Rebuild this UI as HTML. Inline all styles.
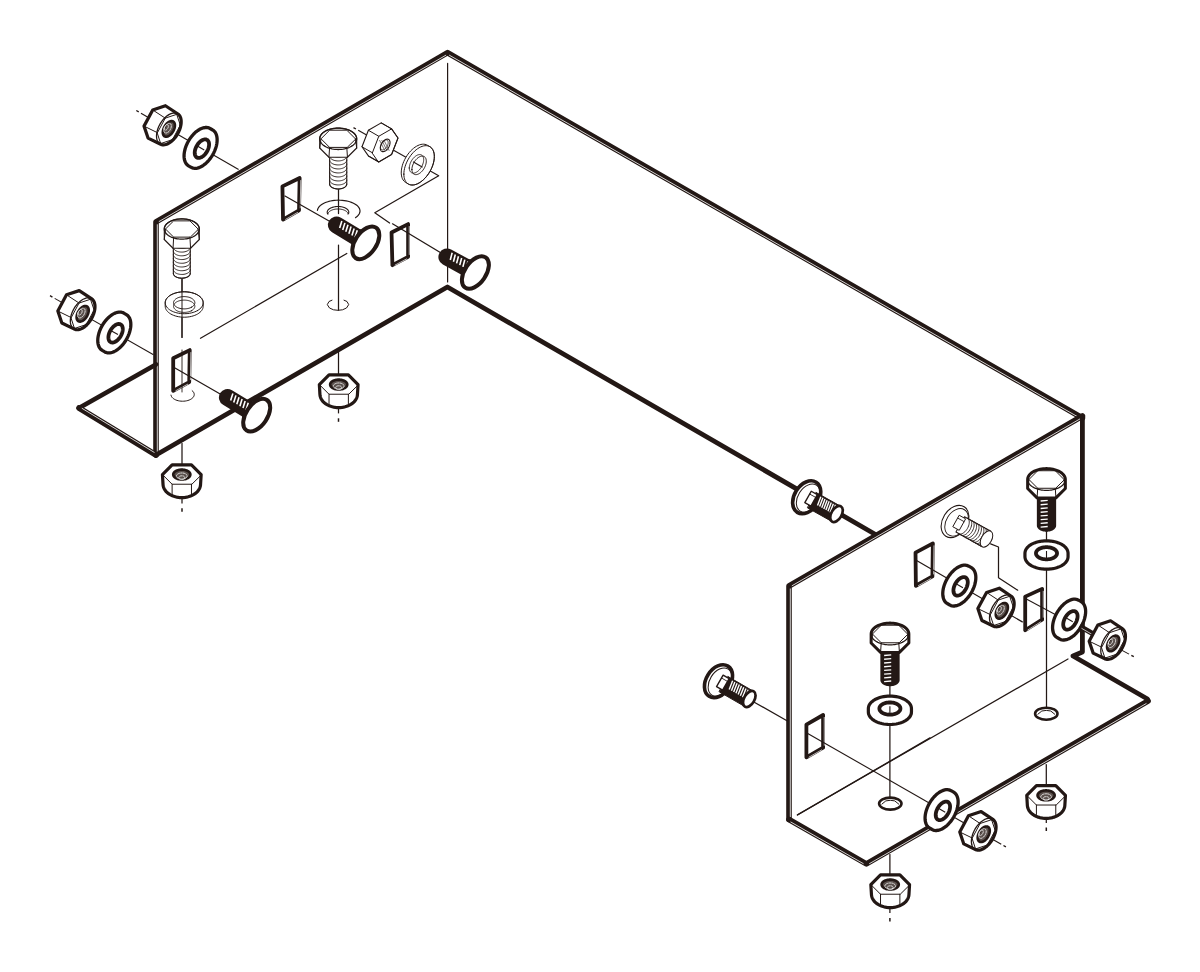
<!DOCTYPE html>
<html><head><meta charset="utf-8"><style>html,body{margin:0;padding:0;background:#fff;}svg{display:block}</style></head>
<body><svg width="1200" height="972" viewBox="0 0 1200 972">
<path d="M156.00,455.00 L156.00,221.80 L447.60,52.70 L1082.40,418.00" fill="none" stroke="#231815" stroke-width="5.6" stroke-linecap="round" stroke-linejoin="round"/>
<path d="M157.30,452.50 L157.30,224.30" fill="none" stroke="#fff" stroke-width="0.8" stroke-linecap="butt" stroke-linejoin="round"/>
<path d="M158.81,221.67 L446.09,55.08" fill="none" stroke="#fff" stroke-width="0.8" stroke-linecap="butt" stroke-linejoin="round"/>
<path d="M449.12,55.07 L1079.58,417.88" fill="none" stroke="#fff" stroke-width="0.8" stroke-linecap="butt" stroke-linejoin="round"/>
<path d="M79.00,408.00 L156.00,364.50" fill="none" stroke="#231815" stroke-width="4.6" stroke-linecap="round" stroke-linejoin="round"/>
<path d="M79.00,408.00 L156.00,455.00" fill="none" stroke="#231815" stroke-width="5.6" stroke-linecap="round" stroke-linejoin="round"/>
<path d="M81.81,408.19 L154.54,452.59" fill="none" stroke="#fff" stroke-width="0.8" stroke-linecap="butt" stroke-linejoin="round"/>
<path d="M156.00,455.00 L447.40,287.00 L875.50,534.50" fill="none" stroke="#231815" stroke-width="4.8" stroke-linecap="round" stroke-linejoin="round"/>
<path d="M789.00,819.50 L789.00,586.00 L1082.40,416.00" fill="none" stroke="#231815" stroke-width="5.6" stroke-linecap="round" stroke-linejoin="round"/>
<path d="M790.30,817.00 L790.30,588.50" fill="none" stroke="#fff" stroke-width="0.8" stroke-linecap="butt" stroke-linejoin="round"/>
<path d="M791.81,585.87 L1080.89,418.38" fill="none" stroke="#fff" stroke-width="0.8" stroke-linecap="butt" stroke-linejoin="round"/>
<path d="M1082.40,418.00 L1082.40,652.00 L1073.00,656.00 L1147.50,699.00 L1148.00,701.00" fill="none" stroke="#231815" stroke-width="4.8" stroke-linecap="round" stroke-linejoin="round"/>
<path d="M1148.00,701.00 L866.40,863.90 L789.00,819.50" fill="none" stroke="#231815" stroke-width="5.6" stroke-linecap="round" stroke-linejoin="round"/>
<path d="M1146.49,703.38 L869.21,863.77" fill="none" stroke="#fff" stroke-width="0.8" stroke-linecap="butt" stroke-linejoin="round"/>
<path d="M863.58,863.78 L790.52,821.87" fill="none" stroke="#fff" stroke-width="0.8" stroke-linecap="butt" stroke-linejoin="round"/>
<path d="M447.60,63.40 L447.60,282.00" fill="none" stroke="#231815" stroke-width="1.2" stroke-linecap="round" stroke-linejoin="round"/>
<path d="M797.30,815.00 L1068.00,659.00" fill="none" stroke="#231815" stroke-width="1.2" stroke-linecap="round" stroke-linejoin="round"/>
<path d="M173.20,358.28 L189.75,350.09 L189.22,382.06 L173.20,390.80Z" fill="#fff" stroke="#231815" stroke-width="3.8" stroke-linecap="round" stroke-linejoin="round"/>
<path d="M190.87,352.11 L190.40,380.08" fill="none" stroke="#fff" stroke-width="0.7" stroke-linecap="butt" stroke-linejoin="round"/>
<path d="M188.01,384.03 L175.51,390.85" fill="none" stroke="#fff" stroke-width="0.7" stroke-linecap="butt" stroke-linejoin="round"/>
<path d="M282.42,186.38 L299.64,178.06 L299.02,210.29 L283.04,219.54Z" fill="#fff" stroke="#231815" stroke-width="3.8" stroke-linecap="round" stroke-linejoin="round"/>
<path d="M300.75,180.08 L300.21,208.31" fill="none" stroke="#fff" stroke-width="0.7" stroke-linecap="butt" stroke-linejoin="round"/>
<path d="M297.87,212.29 L285.35,219.53" fill="none" stroke="#fff" stroke-width="0.7" stroke-linecap="butt" stroke-linejoin="round"/>
<path d="M391.53,232.45 L408.10,224.09 L408.10,256.86 L392.42,265.18Z" fill="#fff" stroke="#231815" stroke-width="3.8" stroke-linecap="round" stroke-linejoin="round"/>
<path d="M409.25,226.09 L409.25,254.86" fill="none" stroke="#fff" stroke-width="0.7" stroke-linecap="butt" stroke-linejoin="round"/>
<path d="M406.87,258.81 L394.72,265.26" fill="none" stroke="#fff" stroke-width="0.7" stroke-linecap="butt" stroke-linejoin="round"/>
<path d="M915.51,552.63 L932.86,543.39 L932.41,576.38 L915.87,585.76Z" fill="#fff" stroke="#231815" stroke-width="3.8" stroke-linecap="round" stroke-linejoin="round"/>
<path d="M933.98,545.40 L933.59,574.40" fill="none" stroke="#fff" stroke-width="0.7" stroke-linecap="butt" stroke-linejoin="round"/>
<path d="M931.24,578.37 L918.17,585.77" fill="none" stroke="#fff" stroke-width="0.7" stroke-linecap="butt" stroke-linejoin="round"/>
<path d="M1025.20,596.62 L1042.10,588.86 L1042.10,619.65 L1025.20,630.26Z" fill="#fff" stroke="#231815" stroke-width="3.8" stroke-linecap="round" stroke-linejoin="round"/>
<path d="M1043.25,590.86 L1043.25,617.65" fill="none" stroke="#fff" stroke-width="0.7" stroke-linecap="butt" stroke-linejoin="round"/>
<path d="M1041.02,621.69 L1027.51,630.17" fill="none" stroke="#fff" stroke-width="0.7" stroke-linecap="butt" stroke-linejoin="round"/>
<path d="M806.40,724.60 L823.10,714.99 L823.10,747.70 L806.40,757.31Z" fill="#fff" stroke="#231815" stroke-width="3.8" stroke-linecap="round" stroke-linejoin="round"/>
<path d="M824.25,716.99 L824.25,745.70" fill="none" stroke="#fff" stroke-width="0.7" stroke-linecap="butt" stroke-linejoin="round"/>
<path d="M821.94,749.70 L808.71,757.31" fill="none" stroke="#fff" stroke-width="0.7" stroke-linecap="butt" stroke-linejoin="round"/>
<path d="M136.30,110.50 L138.73,111.90" fill="none" stroke="#231815" stroke-width="1.375" stroke-linecap="butt" stroke-linejoin="round"/>
<path d="M140.98,113.20 L238.60,169.50" fill="none" stroke="#231815" stroke-width="1.1" stroke-linecap="butt" stroke-linejoin="round"/>
<path d="M50.00,295.70 L52.43,297.09" fill="none" stroke="#231815" stroke-width="1.375" stroke-linecap="butt" stroke-linejoin="round"/>
<path d="M54.69,298.38 L153.50,354.80" fill="none" stroke="#231815" stroke-width="1.1" stroke-linecap="butt" stroke-linejoin="round"/>
<path d="M182.00,279.00 L182.00,337.40" fill="none" stroke="#231815" stroke-width="1.25" stroke-linecap="round" stroke-linejoin="round"/>
<path d="M182.00,350.00 L182.00,392.00" fill="none" stroke="#231815" stroke-width="0.9" stroke-linecap="round" stroke-linejoin="round"/>
<path d="M175.00,368.00 L228.00,398.50" fill="none" stroke="#231815" stroke-width="1.25" stroke-linecap="round" stroke-linejoin="round"/>
<path d="M285.00,196.00 L337.00,225.50" fill="none" stroke="#231815" stroke-width="1.25" stroke-linecap="round" stroke-linejoin="round"/>
<path d="M392.50,223.80 L447.00,256.50" fill="none" stroke="#231815" stroke-width="1.25" stroke-linecap="round" stroke-linejoin="round"/>
<path d="M338.50,189.60 L338.50,213.50" fill="none" stroke="#231815" stroke-width="1.25" stroke-linecap="round" stroke-linejoin="round"/>
<path d="M338.50,245.00 L338.50,310.00" fill="none" stroke="#231815" stroke-width="1.25" stroke-linecap="round" stroke-linejoin="round"/>
<path d="M338.50,350.00 L338.50,374.00" fill="none" stroke="#231815" stroke-width="1.25" stroke-linecap="round" stroke-linejoin="round"/>
<path d="M338.50,405.00 L338.50,413.40" fill="none" stroke="#231815" stroke-width="1.25" stroke-linecap="butt" stroke-linejoin="round"/>
<path d="M338.50,418.30 L338.50,421.80" fill="none" stroke="#231815" stroke-width="1.5" stroke-linecap="butt" stroke-linejoin="round"/>
<path d="M182.00,443.50 L182.00,464.00" fill="none" stroke="#231815" stroke-width="1.25" stroke-linecap="round" stroke-linejoin="round"/>
<path d="M182.00,496.00 L182.00,503.40" fill="none" stroke="#231815" stroke-width="1.25" stroke-linecap="butt" stroke-linejoin="round"/>
<path d="M182.00,508.30 L182.00,511.80" fill="none" stroke="#231815" stroke-width="1.5" stroke-linecap="butt" stroke-linejoin="round"/>
<path d="M353.50,127.60 L355.94,128.98" fill="none" stroke="#231815" stroke-width="1.375" stroke-linecap="butt" stroke-linejoin="round"/>
<path d="M358.20,130.25 L438.70,175.70" fill="none" stroke="#231815" stroke-width="1.1" stroke-linecap="butt" stroke-linejoin="round"/>
<path d="M438.70,175.70 L374.80,212.80 L389.60,223.00" fill="none" stroke="#231815" stroke-width="1.25" stroke-linecap="round" stroke-linejoin="round"/>
<path d="M200.50,338.30 L346.80,253.50" fill="none" stroke="#231815" stroke-width="1.25" stroke-linecap="round" stroke-linejoin="round"/>
<path d="M753.40,701.70 L787.40,721.00" fill="none" stroke="#231815" stroke-width="1.25" stroke-linecap="round" stroke-linejoin="round"/>
<path d="M1005.90,846.90 L1003.47,845.51" fill="none" stroke="#231815" stroke-width="1.375" stroke-linecap="butt" stroke-linejoin="round"/>
<path d="M1001.21,844.22 L807.70,733.40" fill="none" stroke="#231815" stroke-width="1.1" stroke-linecap="butt" stroke-linejoin="round"/>
<path d="M797.50,814.90 L930.00,737.90" fill="none" stroke="#231815" stroke-width="1.25" stroke-linecap="round" stroke-linejoin="round"/>
<path d="M889.90,685.80 L889.90,803.00" fill="none" stroke="#231815" stroke-width="1.25" stroke-linecap="round" stroke-linejoin="round"/>
<path d="M889.90,854.60 L889.90,874.00" fill="none" stroke="#231815" stroke-width="1.25" stroke-linecap="round" stroke-linejoin="round"/>
<path d="M889.90,906.00 L889.90,913.00" fill="none" stroke="#231815" stroke-width="1.25" stroke-linecap="butt" stroke-linejoin="round"/>
<path d="M889.90,918.00 L889.90,921.50" fill="none" stroke="#231815" stroke-width="1.5" stroke-linecap="butt" stroke-linejoin="round"/>
<path d="M1046.50,531.30 L1046.50,713.00" fill="none" stroke="#231815" stroke-width="1.25" stroke-linecap="round" stroke-linejoin="round"/>
<path d="M1046.30,764.60 L1046.30,785.00" fill="none" stroke="#231815" stroke-width="1.25" stroke-linecap="round" stroke-linejoin="round"/>
<path d="M1046.30,816.00 L1046.30,823.00" fill="none" stroke="#231815" stroke-width="1.25" stroke-linecap="butt" stroke-linejoin="round"/>
<path d="M1046.30,827.50 L1046.30,831.00" fill="none" stroke="#231815" stroke-width="1.5" stroke-linecap="butt" stroke-linejoin="round"/>
<path d="M917.00,560.70 L1022.30,621.90" fill="none" stroke="#231815" stroke-width="1.25" stroke-linecap="round" stroke-linejoin="round"/>
<path d="M1133.80,656.70 L1131.33,655.37" fill="none" stroke="#231815" stroke-width="1.375" stroke-linecap="butt" stroke-linejoin="round"/>
<path d="M1129.04,654.14 L1026.80,599.20" fill="none" stroke="#231815" stroke-width="1.1" stroke-linecap="butt" stroke-linejoin="round"/>
<path d="M990.60,543.80 L998.50,547.00 L998.50,577.70 L1017.70,590.20" fill="none" stroke="#231815" stroke-width="1.25" stroke-linecap="round" stroke-linejoin="round"/>
<ellipse cx="890.30" cy="803.60" rx="11.20" ry="6.00" transform="rotate(0 890.30 803.60)" fill="#fff" stroke="#231815" stroke-width="2.6"/>
<path d="M881.90,804.10 L885.82,800.90 L890.30,800.30 L894.78,800.90 L898.70,804.10" fill="none" stroke="#231815" stroke-width="1.0" stroke-linecap="round" stroke-linejoin="round"/>
<ellipse cx="1046.30" cy="713.70" rx="11.20" ry="6.00" transform="rotate(0 1046.30 713.70)" fill="#fff" stroke="#231815" stroke-width="2.6"/>
<path d="M1037.90,714.20 L1041.82,711.00 L1046.30,710.40 L1050.78,711.00 L1054.70,714.20" fill="none" stroke="#231815" stroke-width="1.0" stroke-linecap="round" stroke-linejoin="round"/>
<path d="M332.00,300.20 L329.00,301.50 L327.30,304.60 L329.50,308.00 L333.50,309.80 L338.00,310.30 L342.50,309.80 L346.50,308.00 L348.70,304.60 L347.00,301.50 L344.00,300.20" fill="none" stroke="#231815" stroke-width="1.0" stroke-linecap="round" stroke-linejoin="round"/>
<path d="M331.00,303.00 L338.00,301.50 L345.00,303.00" fill="none" stroke="none"/>
<path d="M192.13,390.65 L192.87,391.35 L193.46,392.09 L193.89,392.87 L194.15,393.68 L194.24,394.50 L194.15,395.32 L193.89,396.13 L193.46,396.91 L192.87,397.65 L192.13,398.35 L191.25,398.99 L190.23,399.57 L189.11,400.07 L187.88,400.49 L186.58,400.81 L185.22,401.05 L183.82,401.18 L182.40,401.22 L180.98,401.15 L179.59,400.99 L178.24,400.73 L176.96,400.38 L175.76,399.93 L174.66,399.41 L173.69,398.82 L172.84,398.16 L172.14,397.44 L171.60,396.69 L171.22,395.90 L171.01,395.09" fill="none" stroke="#231815" stroke-width="1.0" stroke-linecap="round" stroke-linejoin="round"/>
<path d="M144.03,126.12 L152.72,109.95 L165.43,105.73 L177.59,113.79 L178.32,114.28 L178.97,114.89 L179.55,115.61 L180.05,116.42 L180.46,117.33 L180.78,118.33 L181.02,119.41 L181.16,120.56 L181.20,121.78 L181.16,123.04 L181.02,124.36 L180.78,125.71 L180.46,127.08 L180.05,128.47 L179.55,129.85 L178.97,131.24 L178.32,132.60 L177.59,133.94 L176.79,135.24 L175.94,136.49 L175.03,137.68 L174.08,138.80 L173.08,139.85 L172.06,140.82 L171.00,141.70 L169.94,142.47 L168.86,143.15 L167.79,143.72 L166.72,144.17 L165.67,144.51 L164.64,144.73 L163.65,144.83 L162.69,144.80 L161.78,144.66 L160.93,144.40 L160.14,144.01 L148.05,138.07Z" fill="#fff" stroke="#231815" stroke-width="3.2" stroke-linecap="round" stroke-linejoin="round"/>
<path d="M157.43,132.70 L144.03,126.12" fill="none" stroke="#231815" stroke-width="1.0" stroke-linecap="round" stroke-linejoin="round"/>
<path d="M165.25,118.15 L152.72,109.95" fill="none" stroke="#231815" stroke-width="1.0" stroke-linecap="round" stroke-linejoin="round"/>
<path d="M176.69,114.35 L165.43,105.73" fill="none" stroke="#231815" stroke-width="1.0" stroke-linecap="round" stroke-linejoin="round"/>
<path d="M161.04,143.45 L148.05,138.07" fill="none" stroke="#231815" stroke-width="1.0" stroke-linecap="round" stroke-linejoin="round"/>
<path d="M157.43,132.70 L165.25,118.15 L176.69,114.35 L180.30,125.10 L172.48,139.65 L161.04,143.45Z" fill="none" stroke="#231815" stroke-width="1.0" stroke-linecap="round" stroke-linejoin="round"/>
<path d="M156.52,136.03 L156.57,134.76 L156.71,133.44 L156.94,132.09 L157.27,130.72 L157.68,129.34 L158.17,127.95 L158.75,126.56 L159.41,125.20 L160.14,123.86 L160.93,122.56 L161.78,121.31 L162.69,120.12 L163.65,119.00 L164.64,117.95 L165.67,116.98 L166.72,116.10 L167.79,115.33 L168.86,114.65 L169.94,114.08 L171.01,113.63 L172.06,113.29 L173.08,113.07 L174.08,112.97 L175.03,113.00 L175.94,113.14 L176.79,113.40 L177.59,113.79 L178.32,114.28 L178.97,114.89 L179.55,115.60 L180.05,116.42 L180.46,117.33 L180.78,118.33 L181.02,119.41 L181.16,120.56 L181.20,121.78 L181.16,123.04 L181.02,124.36 L180.78,125.71 L180.46,127.08 L180.05,128.46 L179.55,129.85 L178.97,131.24 L178.32,132.60 L177.59,133.94 L176.79,135.24 L175.94,136.49 L175.03,137.68 L174.08,138.80 L173.08,139.85 L172.06,140.82 L171.01,141.70 L169.94,142.47 L168.86,143.15 L167.79,143.72 L166.72,144.17 L165.67,144.51 L164.64,144.73 L163.65,144.83 L162.69,144.80 L161.78,144.66 L160.93,144.40 L160.14,144.01 L159.41,143.52 L158.75,142.91 L158.17,142.20 L157.68,141.38 L157.27,140.47 L156.94,139.47 L156.71,138.39 L156.57,137.24 L156.52,136.03Z" fill="none" stroke="#231815" stroke-width="1.3" stroke-linecap="round" stroke-linejoin="round"/>
<path d="M162.80,132.40 L162.83,131.70 L162.92,130.97 L163.06,130.22 L163.26,129.45 L163.52,128.69 L163.82,127.92 L164.18,127.16 L164.58,126.43 L165.02,125.71 L165.49,125.02 L166.00,124.38 L166.54,123.77 L167.10,123.22 L167.68,122.72 L168.27,122.28 L168.86,121.90 L169.46,121.59 L170.04,121.35 L170.62,121.19 L171.18,121.09 L171.72,121.08 L172.23,121.14 L172.71,121.27 L173.15,121.48 L173.55,121.75 L173.90,122.10 L174.21,122.51 L174.46,122.99 L174.66,123.52 L174.81,124.10 L174.90,124.73 L174.92,125.40 L174.90,126.10 L174.81,126.83 L174.66,127.58 L174.46,128.35 L174.21,129.11 L173.90,129.88 L173.55,130.64 L173.15,131.37 L172.71,132.09 L172.23,132.78 L171.72,133.42 L171.18,134.03 L170.62,134.58 L170.04,135.08 L169.46,135.52 L168.86,135.90 L168.27,136.21 L167.68,136.45 L167.10,136.61 L166.54,136.71 L166.00,136.72 L165.49,136.66 L165.02,136.53 L164.58,136.32 L164.18,136.05 L163.82,135.70 L163.52,135.29 L163.26,134.81 L163.06,134.28 L162.92,133.70 L162.83,133.07 L162.80,132.40Z" fill="#5a504c" stroke="#231815" stroke-width="2.6" stroke-linecap="round" stroke-linejoin="round"/>
<path d="M163.80,130.32 L163.82,129.88 L163.88,129.43 L163.97,128.97 L164.09,128.49 L164.25,128.02 L164.44,127.54 L164.66,127.07 L164.91,126.62 L165.18,126.17 L165.48,125.75 L165.79,125.35 L166.12,124.97 L166.47,124.63 L166.83,124.32 L167.19,124.04 L167.56,123.81 L167.93,123.62 L168.30,123.47 L168.65,123.37 L169.00,123.31 L169.33,123.30 L169.65,123.34 L169.95,123.42 L170.22,123.55 L170.47,123.72 L170.69,123.93 L170.88,124.19 L171.04,124.48 L171.16,124.81 L171.25,125.18 L171.30,125.57 L171.32,125.98 L171.30,126.42 L171.25,126.87 L171.16,127.33 L171.04,127.81 L170.88,128.28 L170.69,128.76 L170.47,129.23 L170.22,129.68 L169.95,130.13 L169.65,130.55 L169.33,130.95 L169.00,131.33 L168.65,131.67 L168.30,131.98 L167.93,132.26 L167.56,132.49 L167.19,132.68 L166.83,132.83 L166.47,132.93 L166.12,132.99 L165.79,133.00 L165.48,132.96 L165.18,132.88 L164.91,132.75 L164.66,132.58 L164.44,132.37 L164.25,132.11 L164.09,131.82 L163.97,131.49 L163.88,131.12 L163.82,130.73 L163.80,130.32Z" fill="none" stroke="#fff" stroke-width="0.9" stroke-linecap="round" stroke-linejoin="round" stroke-dasharray="1.5,1.2"/>
<path d="M164.14,128.62 L164.15,128.38 L164.18,128.12 L164.23,127.86 L164.30,127.59 L164.39,127.33 L164.50,127.06 L164.62,126.79 L164.76,126.53 L164.92,126.28 L165.09,126.04 L165.26,125.82 L165.45,125.61 L165.65,125.41 L165.85,125.24 L166.06,125.08 L166.26,124.95 L166.47,124.84 L166.68,124.76 L166.88,124.70 L167.08,124.67 L167.26,124.66 L167.44,124.68 L167.61,124.73 L167.76,124.80 L167.90,124.90 L168.03,125.02 L168.14,125.16 L168.22,125.33 L168.29,125.52 L168.35,125.72 L168.38,125.94 L168.39,126.18 L168.38,126.42 L168.35,126.68 L168.29,126.94 L168.22,127.21 L168.14,127.47 L168.03,127.74 L167.90,128.01 L167.76,128.27 L167.61,128.52 L167.44,128.76 L167.26,128.98 L167.08,129.19 L166.88,129.39 L166.68,129.56 L166.47,129.72 L166.26,129.85 L166.06,129.96 L165.85,130.04 L165.65,130.10 L165.45,130.13 L165.26,130.14 L165.09,130.12 L164.92,130.07 L164.76,130.00 L164.62,129.90 L164.50,129.78 L164.39,129.64 L164.30,129.47 L164.23,129.28 L164.18,129.08 L164.15,128.86 L164.14,128.62Z" fill="none" stroke="#fff" stroke-width="0.9" stroke-linecap="round" stroke-linejoin="round" stroke-dasharray="1.5,1.2"/>
<path d="M184.06,155.95 L184.13,154.18 L184.35,152.35 L184.72,150.46 L185.22,148.54 L185.86,146.61 L186.63,144.69 L187.52,142.79 L188.52,140.93 L189.63,139.13 L190.83,137.41 L192.12,135.78 L193.47,134.26 L194.88,132.86 L196.33,131.60 L197.81,130.50 L199.30,129.55 L200.79,128.77 L202.28,128.17 L203.72,127.75 L205.13,127.52 L206.49,127.48 L207.77,127.63 L208.97,127.96 L210.08,128.48 L212.68,129.98 L213.68,130.68 L214.57,131.56 L215.34,132.59 L215.98,133.78 L216.49,135.12 L216.85,136.59 L217.07,138.17 L217.14,139.85 L217.07,141.62 L216.85,143.45 L216.49,145.34 L215.98,147.25 L215.34,149.19 L214.57,151.11 L213.68,153.01 L212.68,154.87 L211.57,156.67 L210.37,158.40 L209.08,160.02 L207.73,161.54 L206.32,162.94 L204.87,164.19 L203.39,165.30 L201.90,166.25 L200.41,167.03 L198.93,167.63 L197.47,168.05 L196.07,168.28 L194.71,168.32 L193.43,168.17 L192.23,167.84 L191.12,167.32 L188.52,165.82 L187.52,165.12 L186.63,164.25 L185.86,163.21 L185.22,162.01 L184.72,160.68 L184.35,159.22 L184.13,157.63Z" fill="#fff" stroke="#231815" stroke-width="3.3" stroke-linecap="round" stroke-linejoin="round"/>
<path d="M194.71,152.80 L194.75,151.97 L194.85,151.10 L195.02,150.21 L195.26,149.31 L195.56,148.40 L195.92,147.49 L196.34,146.59 L196.82,145.72 L197.34,144.87 L197.91,144.05 L198.51,143.29 L199.15,142.57 L199.81,141.91 L200.50,141.32 L201.19,140.80 L201.90,140.35 L202.60,139.98 L203.30,139.70 L203.99,139.50 L204.65,139.39 L205.29,139.37 L205.89,139.44 L206.46,139.60 L206.98,139.85 L207.46,140.18 L207.88,140.59 L208.24,141.08 L208.54,141.64 L208.78,142.27 L208.95,142.96 L209.05,143.71 L209.09,144.50 L209.05,145.33 L208.95,146.20 L208.78,147.09 L208.54,147.99 L208.24,148.90 L207.88,149.81 L207.46,150.71 L206.98,151.58 L206.46,152.43 L205.89,153.25 L205.29,154.01 L204.65,154.73 L203.99,155.39 L203.30,155.98 L202.60,156.50 L201.90,156.95 L201.19,157.32 L200.50,157.60 L199.81,157.80 L199.15,157.91 L198.51,157.93 L197.91,157.86 L197.34,157.70 L196.82,157.45 L196.34,157.12 L195.92,156.71 L195.56,156.22 L195.26,155.66 L195.02,155.03 L194.85,154.34 L194.75,153.59 L194.71,152.80Z" fill="#fff" stroke="#231815" stroke-width="3.8" stroke-linecap="round" stroke-linejoin="round"/>
<path d="M57.83,311.02 L66.52,294.85 L79.23,290.63 L91.39,298.69 L92.12,299.18 L92.77,299.79 L93.35,300.50 L93.85,301.32 L94.26,302.23 L94.58,303.23 L94.82,304.31 L94.96,305.46 L95.00,306.68 L94.96,307.94 L94.82,309.26 L94.58,310.61 L94.26,311.98 L93.85,313.37 L93.35,314.75 L92.77,316.14 L92.12,317.50 L91.39,318.84 L90.59,320.14 L89.74,321.39 L88.83,322.58 L87.88,323.70 L86.88,324.75 L85.86,325.72 L84.81,326.60 L83.74,327.38 L82.66,328.05 L81.59,328.62 L80.52,329.07 L79.47,329.41 L78.44,329.63 L77.45,329.73 L76.49,329.70 L75.58,329.56 L74.73,329.30 L73.94,328.91 L61.85,322.97Z" fill="#fff" stroke="#231815" stroke-width="3.2" stroke-linecap="round" stroke-linejoin="round"/>
<path d="M71.23,317.60 L57.83,311.02" fill="none" stroke="#231815" stroke-width="1.0" stroke-linecap="round" stroke-linejoin="round"/>
<path d="M79.05,303.05 L66.52,294.85" fill="none" stroke="#231815" stroke-width="1.0" stroke-linecap="round" stroke-linejoin="round"/>
<path d="M90.49,299.25 L79.23,290.63" fill="none" stroke="#231815" stroke-width="1.0" stroke-linecap="round" stroke-linejoin="round"/>
<path d="M74.84,328.35 L61.85,322.97" fill="none" stroke="#231815" stroke-width="1.0" stroke-linecap="round" stroke-linejoin="round"/>
<path d="M71.23,317.60 L79.05,303.05 L90.49,299.25 L94.10,310.00 L86.28,324.55 L74.84,328.35Z" fill="none" stroke="#231815" stroke-width="1.0" stroke-linecap="round" stroke-linejoin="round"/>
<path d="M70.32,320.93 L70.37,319.66 L70.51,318.34 L70.74,316.99 L71.07,315.62 L71.48,314.24 L71.97,312.85 L72.55,311.46 L73.21,310.10 L73.94,308.76 L74.73,307.46 L75.58,306.21 L76.49,305.02 L77.45,303.90 L78.44,302.85 L79.47,301.88 L80.52,301.00 L81.59,300.23 L82.66,299.55 L83.74,298.98 L84.81,298.53 L85.86,298.19 L86.88,297.97 L87.88,297.87 L88.83,297.90 L89.74,298.04 L90.59,298.30 L91.39,298.69 L92.12,299.18 L92.77,299.79 L93.35,300.50 L93.85,301.32 L94.26,302.23 L94.58,303.23 L94.82,304.31 L94.96,305.46 L95.00,306.68 L94.96,307.94 L94.82,309.26 L94.58,310.61 L94.26,311.98 L93.85,313.36 L93.35,314.75 L92.77,316.14 L92.12,317.50 L91.39,318.84 L90.59,320.14 L89.74,321.39 L88.83,322.58 L87.88,323.70 L86.88,324.75 L85.86,325.72 L84.81,326.60 L83.74,327.37 L82.66,328.05 L81.59,328.62 L80.52,329.07 L79.47,329.41 L78.44,329.63 L77.45,329.73 L76.49,329.70 L75.58,329.56 L74.73,329.30 L73.94,328.91 L73.21,328.42 L72.55,327.81 L71.97,327.10 L71.48,326.28 L71.07,325.37 L70.74,324.37 L70.51,323.29 L70.37,322.14 L70.32,320.93Z" fill="none" stroke="#231815" stroke-width="1.3" stroke-linecap="round" stroke-linejoin="round"/>
<path d="M76.60,317.30 L76.63,316.60 L76.72,315.87 L76.86,315.12 L77.06,314.35 L77.32,313.59 L77.62,312.82 L77.98,312.06 L78.38,311.33 L78.82,310.61 L79.29,309.92 L79.80,309.28 L80.34,308.67 L80.90,308.12 L81.48,307.62 L82.07,307.18 L82.66,306.80 L83.26,306.49 L83.84,306.25 L84.42,306.09 L84.98,305.99 L85.52,305.98 L86.03,306.04 L86.51,306.17 L86.95,306.38 L87.35,306.65 L87.70,307.00 L88.01,307.41 L88.26,307.89 L88.46,308.42 L88.61,309.00 L88.70,309.63 L88.72,310.30 L88.70,311.00 L88.61,311.73 L88.46,312.48 L88.26,313.25 L88.01,314.01 L87.70,314.78 L87.35,315.54 L86.95,316.27 L86.51,316.99 L86.03,317.68 L85.52,318.32 L84.98,318.93 L84.42,319.48 L83.84,319.98 L83.26,320.42 L82.66,320.80 L82.07,321.11 L81.48,321.35 L80.90,321.51 L80.34,321.61 L79.80,321.62 L79.29,321.56 L78.82,321.43 L78.38,321.22 L77.98,320.95 L77.62,320.60 L77.32,320.19 L77.06,319.71 L76.86,319.18 L76.72,318.60 L76.63,317.97 L76.60,317.30Z" fill="#5a504c" stroke="#231815" stroke-width="2.6" stroke-linecap="round" stroke-linejoin="round"/>
<path d="M77.60,315.22 L77.62,314.78 L77.68,314.33 L77.77,313.87 L77.89,313.39 L78.05,312.92 L78.24,312.44 L78.46,311.97 L78.71,311.52 L78.98,311.07 L79.28,310.65 L79.59,310.25 L79.92,309.87 L80.27,309.53 L80.63,309.22 L80.99,308.94 L81.36,308.71 L81.73,308.52 L82.10,308.37 L82.45,308.27 L82.80,308.21 L83.13,308.20 L83.45,308.24 L83.75,308.32 L84.02,308.45 L84.27,308.62 L84.49,308.83 L84.68,309.09 L84.84,309.38 L84.96,309.71 L85.05,310.08 L85.10,310.47 L85.12,310.88 L85.10,311.32 L85.05,311.77 L84.96,312.23 L84.84,312.71 L84.68,313.18 L84.49,313.66 L84.27,314.13 L84.02,314.58 L83.75,315.03 L83.45,315.45 L83.13,315.85 L82.80,316.23 L82.45,316.57 L82.10,316.88 L81.73,317.16 L81.36,317.39 L80.99,317.58 L80.63,317.73 L80.27,317.83 L79.92,317.89 L79.59,317.90 L79.28,317.86 L78.98,317.78 L78.71,317.65 L78.46,317.48 L78.24,317.27 L78.05,317.01 L77.89,316.72 L77.77,316.39 L77.68,316.02 L77.62,315.63 L77.60,315.22Z" fill="none" stroke="#fff" stroke-width="0.9" stroke-linecap="round" stroke-linejoin="round" stroke-dasharray="1.5,1.2"/>
<path d="M77.94,313.53 L77.95,313.28 L77.98,313.02 L78.03,312.76 L78.10,312.49 L78.19,312.23 L78.30,311.96 L78.42,311.69 L78.56,311.43 L78.72,311.18 L78.89,310.94 L79.06,310.72 L79.25,310.51 L79.45,310.31 L79.65,310.14 L79.86,309.98 L80.06,309.85 L80.27,309.74 L80.48,309.66 L80.68,309.60 L80.88,309.57 L81.06,309.56 L81.24,309.58 L81.41,309.63 L81.56,309.70 L81.70,309.80 L81.83,309.92 L81.94,310.06 L82.02,310.23 L82.09,310.42 L82.15,310.62 L82.18,310.84 L82.19,311.07 L82.18,311.32 L82.15,311.58 L82.09,311.84 L82.02,312.11 L81.94,312.37 L81.83,312.64 L81.70,312.91 L81.56,313.17 L81.41,313.42 L81.24,313.66 L81.06,313.88 L80.88,314.09 L80.68,314.29 L80.48,314.46 L80.27,314.62 L80.06,314.75 L79.86,314.86 L79.65,314.94 L79.45,315.00 L79.25,315.03 L79.06,315.04 L78.89,315.02 L78.72,314.97 L78.56,314.90 L78.42,314.80 L78.30,314.68 L78.19,314.54 L78.10,314.37 L78.03,314.18 L77.98,313.98 L77.95,313.76 L77.94,313.53Z" fill="none" stroke="#fff" stroke-width="0.9" stroke-linecap="round" stroke-linejoin="round" stroke-dasharray="1.5,1.2"/>
<path d="M97.76,340.55 L97.83,338.78 L98.05,336.95 L98.42,335.06 L98.92,333.14 L99.56,331.21 L100.33,329.29 L101.22,327.39 L102.22,325.53 L103.33,323.73 L104.53,322.00 L105.82,320.38 L107.17,318.86 L108.58,317.46 L110.03,316.20 L111.51,315.10 L113.00,314.15 L114.50,313.37 L115.97,312.77 L117.42,312.35 L118.83,312.12 L120.19,312.08 L121.47,312.23 L122.67,312.56 L123.78,313.08 L126.38,314.58 L127.38,315.28 L128.27,316.15 L129.04,317.19 L129.68,318.38 L130.19,319.72 L130.55,321.19 L130.77,322.77 L130.84,324.45 L130.77,326.22 L130.55,328.05 L130.19,329.94 L129.68,331.86 L129.04,333.79 L128.27,335.71 L127.38,337.61 L126.38,339.47 L125.27,341.27 L124.07,343.00 L122.78,344.62 L121.43,346.14 L120.02,347.54 L118.57,348.80 L117.09,349.90 L115.60,350.85 L114.11,351.63 L112.62,352.23 L111.17,352.65 L109.77,352.88 L108.41,352.92 L107.13,352.77 L105.93,352.44 L104.82,351.92 L102.22,350.42 L101.22,349.72 L100.33,348.85 L99.56,347.81 L98.92,346.62 L98.42,345.28 L98.05,343.81 L97.83,342.23Z" fill="#fff" stroke="#231815" stroke-width="3.3" stroke-linecap="round" stroke-linejoin="round"/>
<path d="M108.41,337.40 L108.45,336.57 L108.55,335.70 L108.72,334.81 L108.96,333.91 L109.26,333.00 L109.62,332.09 L110.04,331.19 L110.52,330.32 L111.04,329.47 L111.61,328.65 L112.21,327.89 L112.85,327.17 L113.51,326.51 L114.20,325.92 L114.89,325.40 L115.60,324.95 L116.30,324.58 L117.00,324.30 L117.69,324.10 L118.35,323.99 L118.99,323.97 L119.59,324.04 L120.16,324.20 L120.68,324.45 L121.16,324.78 L121.58,325.19 L121.94,325.68 L122.24,326.24 L122.48,326.87 L122.65,327.56 L122.75,328.31 L122.79,329.10 L122.75,329.93 L122.65,330.80 L122.48,331.69 L122.24,332.59 L121.94,333.50 L121.58,334.41 L121.16,335.31 L120.68,336.18 L120.16,337.03 L119.59,337.85 L118.99,338.61 L118.35,339.33 L117.69,339.99 L117.00,340.58 L116.30,341.10 L115.60,341.55 L114.89,341.92 L114.20,342.20 L113.51,342.40 L112.85,342.51 L112.21,342.53 L111.61,342.46 L111.04,342.30 L110.52,342.05 L110.04,341.72 L109.62,341.31 L109.26,340.82 L108.96,340.26 L108.72,339.63 L108.55,338.94 L108.45,338.19 L108.41,337.40Z" fill="#fff" stroke="#231815" stroke-width="3.8" stroke-linecap="round" stroke-linejoin="round"/>
<path d="M190.25,239.50 L190.25,273.30 L190.22,273.73 L190.12,274.15 L189.96,274.56 L189.74,274.97 L189.46,275.36 L189.12,275.74 L188.72,276.10 L188.27,276.44 L187.78,276.75 L187.23,277.04 L186.65,277.30 L186.03,277.53 L185.37,277.72 L184.69,277.88 L183.99,278.01 L183.27,278.10 L182.54,278.16 L181.80,278.18 L181.06,278.16 L180.33,278.10 L179.61,278.01 L178.91,277.88 L178.23,277.72 L177.57,277.53 L176.95,277.30 L176.37,277.04 L175.82,276.75 L175.33,276.44 L174.88,276.10 L174.48,275.74 L174.14,275.36 L173.86,274.97 L173.64,274.56 L173.48,274.15 L173.38,273.73 L173.35,273.30 L173.35,239.50" fill="#fff" stroke="#231815" stroke-width="1.1" stroke-linecap="round" stroke-linejoin="round"/>
<path d="M190.25,243.50 L190.18,244.14 L189.96,244.76 L189.61,245.37 L189.12,245.94 L188.50,246.47 L187.78,246.95 L186.94,247.37 L186.03,247.73 L185.03,248.01 L183.99,248.21 L182.90,248.34 L181.80,248.38 L180.70,248.34 L179.61,248.21 L178.57,248.01 L177.57,247.73 L176.66,247.37 L175.82,246.95 L175.10,246.47 L174.48,245.94 L173.99,245.37 L173.64,244.76 L173.42,244.14 L173.35,243.50" fill="none" stroke="#231815" stroke-width="0.9" stroke-linecap="round" stroke-linejoin="round"/>
<path d="M190.25,247.22 L190.18,247.86 L189.96,248.49 L189.61,249.09 L189.12,249.66 L188.50,250.20 L187.78,250.67 L186.94,251.10 L186.03,251.45 L185.03,251.73 L183.99,251.94 L182.90,252.06 L181.80,252.10 L180.70,252.06 L179.61,251.94 L178.57,251.73 L177.57,251.45 L176.66,251.10 L175.82,250.67 L175.10,250.20 L174.48,249.66 L173.99,249.09 L173.64,248.49 L173.42,247.86 L173.35,247.22" fill="none" stroke="#231815" stroke-width="0.9" stroke-linecap="round" stroke-linejoin="round"/>
<path d="M190.25,250.95 L190.18,251.59 L189.96,252.21 L189.61,252.82 L189.12,253.39 L188.50,253.92 L187.78,254.40 L186.94,254.82 L186.03,255.18 L185.03,255.46 L183.99,255.66 L182.90,255.79 L181.80,255.83 L180.70,255.79 L179.61,255.66 L178.57,255.46 L177.57,255.18 L176.66,254.82 L175.82,254.40 L175.10,253.92 L174.48,253.39 L173.99,252.82 L173.64,252.21 L173.42,251.59 L173.35,250.95" fill="none" stroke="#231815" stroke-width="0.9" stroke-linecap="round" stroke-linejoin="round"/>
<path d="M190.25,254.68 L190.18,255.31 L189.96,255.94 L189.61,256.54 L189.12,257.11 L188.50,257.65 L187.78,258.12 L186.94,258.55 L186.03,258.90 L185.03,259.18 L183.99,259.39 L182.90,259.51 L181.80,259.55 L180.70,259.51 L179.61,259.39 L178.57,259.18 L177.57,258.90 L176.66,258.55 L175.82,258.12 L175.10,257.65 L174.48,257.11 L173.99,256.54 L173.64,255.94 L173.42,255.31 L173.35,254.68" fill="none" stroke="#231815" stroke-width="0.9" stroke-linecap="round" stroke-linejoin="round"/>
<path d="M190.25,258.40 L190.18,259.04 L189.96,259.66 L189.61,260.27 L189.12,260.84 L188.50,261.37 L187.78,261.85 L186.94,262.27 L186.03,262.63 L185.03,262.91 L183.99,263.11 L182.90,263.24 L181.80,263.28 L180.70,263.24 L179.61,263.11 L178.57,262.91 L177.57,262.63 L176.66,262.27 L175.82,261.85 L175.10,261.37 L174.48,260.84 L173.99,260.27 L173.64,259.66 L173.42,259.04 L173.35,258.40" fill="none" stroke="#231815" stroke-width="0.9" stroke-linecap="round" stroke-linejoin="round"/>
<path d="M190.25,262.12 L190.18,262.76 L189.96,263.39 L189.61,263.99 L189.12,264.56 L188.50,265.10 L187.78,265.57 L186.94,266.00 L186.03,266.35 L185.03,266.63 L183.99,266.84 L182.90,266.96 L181.80,267.00 L180.70,266.96 L179.61,266.84 L178.57,266.63 L177.57,266.35 L176.66,266.00 L175.82,265.57 L175.10,265.10 L174.48,264.56 L173.99,263.99 L173.64,263.39 L173.42,262.76 L173.35,262.12" fill="none" stroke="#231815" stroke-width="0.9" stroke-linecap="round" stroke-linejoin="round"/>
<path d="M190.25,265.85 L190.18,266.49 L189.96,267.11 L189.61,267.72 L189.12,268.29 L188.50,268.82 L187.78,269.30 L186.94,269.72 L186.03,270.08 L185.03,270.36 L183.99,270.56 L182.90,270.69 L181.80,270.73 L180.70,270.69 L179.61,270.56 L178.57,270.36 L177.57,270.08 L176.66,269.72 L175.82,269.30 L175.10,268.82 L174.48,268.29 L173.99,267.72 L173.64,267.11 L173.42,266.49 L173.35,265.85" fill="none" stroke="#231815" stroke-width="0.9" stroke-linecap="round" stroke-linejoin="round"/>
<path d="M190.25,269.57 L190.18,270.21 L189.96,270.84 L189.61,271.44 L189.12,272.01 L188.50,272.55 L187.78,273.02 L186.94,273.45 L186.03,273.80 L185.03,274.08 L183.99,274.29 L182.90,274.41 L181.80,274.45 L180.70,274.41 L179.61,274.29 L178.57,274.08 L177.57,273.80 L176.66,273.45 L175.82,273.02 L175.10,272.55 L174.48,272.01 L173.99,271.44 L173.64,270.84 L173.42,270.21 L173.35,269.57" fill="none" stroke="#231815" stroke-width="0.9" stroke-linecap="round" stroke-linejoin="round"/>
<path d="M190.25,273.30 L190.18,273.94 L189.96,274.56 L189.61,275.17 L189.12,275.74 L188.50,276.27 L187.78,276.75 L186.94,277.17 L186.03,277.53 L185.03,277.81 L183.99,278.01 L182.90,278.14 L181.80,278.18 L180.70,278.14 L179.61,278.01 L178.57,277.81 L177.57,277.53 L176.66,277.17 L175.82,276.75 L175.10,276.27 L174.48,275.74 L173.99,275.17 L173.64,274.56 L173.42,273.94 L173.35,273.30" fill="none" stroke="#231815" stroke-width="0.9" stroke-linecap="round" stroke-linejoin="round"/>
<path d="M164.29,229.00 L164.35,228.12 L164.55,227.24 L164.88,226.38 L165.34,225.54 L165.93,224.73 L166.63,223.94 L167.45,223.20 L168.38,222.50 L169.42,221.85 L170.54,221.25 L171.75,220.72 L173.04,220.24 L174.40,219.84 L175.81,219.50 L177.27,219.23 L178.76,219.04 L180.27,218.93 L181.80,218.89 L183.33,218.93 L184.84,219.04 L186.33,219.23 L187.79,219.50 L189.20,219.84 L190.56,220.24 L191.85,220.72 L193.06,221.25 L194.18,221.85 L195.22,222.50 L196.15,223.20 L196.97,223.94 L197.67,224.73 L198.26,225.54 L198.72,226.38 L199.05,227.24 L199.25,228.12 L199.31,229.00 L199.31,239.50 L190.56,248.26 L173.04,248.26 L164.29,239.50Z" fill="#fff" stroke="#231815" stroke-width="1.1" stroke-linecap="round" stroke-linejoin="round"/>
<path d="M189.94,237.14 L190.56,248.26" fill="none" stroke="#231815" stroke-width="1.0" stroke-linecap="round" stroke-linejoin="round"/>
<path d="M173.66,237.14 L173.04,248.26" fill="none" stroke="#231815" stroke-width="1.0" stroke-linecap="round" stroke-linejoin="round"/>
<path d="M165.51,229.00 L164.29,239.50" fill="none" stroke="#231815" stroke-width="1.0" stroke-linecap="round" stroke-linejoin="round"/>
<path d="M198.09,229.00 L199.31,239.50" fill="none" stroke="#231815" stroke-width="1.0" stroke-linecap="round" stroke-linejoin="round"/>
<path d="M189.94,237.14 L173.66,237.14 L165.51,229.00 L173.66,220.86 L189.94,220.86 L198.09,229.00Z" fill="none" stroke="#231815" stroke-width="1.0" stroke-linecap="round" stroke-linejoin="round"/>
<path d="M194.18,236.15 L193.06,236.75 L191.85,237.28 L190.56,237.76 L189.20,238.16 L187.79,238.50 L186.33,238.77 L184.84,238.96 L183.33,239.07 L181.80,239.11 L180.27,239.07 L178.76,238.96 L177.27,238.77 L175.81,238.50 L174.40,238.16 L173.04,237.76 L171.75,237.28 L170.54,236.75 L169.42,236.15 L168.38,235.50 L167.45,234.80 L166.63,234.06 L165.93,233.27 L165.34,232.46 L164.88,231.62 L164.55,230.76 L164.35,229.88 L164.29,229.00 L164.35,228.12 L164.55,227.24 L164.88,226.38 L165.34,225.54 L165.93,224.73 L166.63,223.94 L167.45,223.20 L168.38,222.50 L169.42,221.85 L170.54,221.25 L171.75,220.72 L173.04,220.24 L174.40,219.84 L175.81,219.50 L177.27,219.23 L178.76,219.04 L180.27,218.93 L181.80,218.89 L183.33,218.93 L184.84,219.04 L186.33,219.23 L187.79,219.50 L189.20,219.84 L190.56,220.24 L191.85,220.72 L193.06,221.25 L194.18,221.85 L195.22,222.50 L196.15,223.20 L196.97,223.94 L197.67,224.73 L198.26,225.54 L198.72,226.38 L199.05,227.24 L199.25,228.12 L199.31,229.00 L199.25,229.88 L199.05,230.76 L198.72,231.62 L198.26,232.46 L197.67,233.27 L196.97,234.06 L196.15,234.80 L195.22,235.50 L194.18,236.15Z" fill="none" stroke="#231815" stroke-width="1.3" stroke-linecap="round" stroke-linejoin="round"/>
<path d="M165.22,302.75 L165.31,301.68 L165.58,300.61 L166.03,299.57 L166.66,298.56 L167.46,297.58 L168.42,296.66 L169.53,295.80 L170.78,295.00 L172.16,294.28 L173.65,293.64 L175.25,293.08 L176.94,292.62 L178.69,292.26 L180.50,292.00 L182.34,291.84 L184.20,291.79 L186.06,291.84 L187.90,292.00 L189.71,292.26 L191.47,292.62 L193.15,293.08 L194.75,293.64 L196.24,294.28 L197.62,295.00 L198.87,295.80 L199.98,296.66 L200.94,297.58 L201.74,298.56 L202.37,299.57 L202.82,300.61 L203.09,301.68 L203.18,302.75 L203.18,306.25 L203.09,307.32 L202.82,308.39 L202.37,309.43 L201.74,310.44 L200.94,311.42 L199.98,312.34 L198.87,313.20 L197.62,314.00 L196.24,314.72 L194.75,315.36 L193.15,315.92 L191.47,316.38 L189.71,316.74 L187.90,317.00 L186.06,317.16 L184.20,317.21 L182.34,317.16 L180.50,317.00 L178.69,316.74 L176.94,316.38 L175.25,315.92 L173.65,315.36 L172.16,314.72 L170.78,314.00 L169.53,313.20 L168.42,312.34 L167.46,311.42 L166.66,310.44 L166.03,309.43 L165.58,308.39 L165.31,307.32 L165.22,306.25Z" fill="#fff" stroke="#231815" stroke-width="1.0" stroke-linecap="round" stroke-linejoin="round"/>
<path d="M197.62,310.50 L196.24,311.22 L194.75,311.86 L193.15,312.42 L191.46,312.88 L189.71,313.24 L187.90,313.50 L186.06,313.66 L184.20,313.71 L182.34,313.66 L180.50,313.50 L178.69,313.24 L176.94,312.88 L175.25,312.42 L173.65,311.86 L172.16,311.22 L170.78,310.50 L169.53,309.70 L168.42,308.84 L167.46,307.92 L166.66,306.94 L166.03,305.93 L165.58,304.89 L165.31,303.82 L165.22,302.75 L165.31,301.68 L165.58,300.61 L166.03,299.57 L166.66,298.56 L167.46,297.58 L168.42,296.66 L169.53,295.80 L170.78,295.00 L172.16,294.28 L173.65,293.64 L175.25,293.08 L176.94,292.62 L178.69,292.26 L180.50,292.00 L182.34,291.84 L184.20,291.79 L186.06,291.84 L187.90,292.00 L189.71,292.26 L191.46,292.62 L193.15,293.08 L194.75,293.64 L196.24,294.28 L197.62,295.00 L198.87,295.80 L199.98,296.66 L200.94,297.58 L201.74,298.56 L202.37,299.57 L202.82,300.61 L203.09,301.68 L203.18,302.75 L203.09,303.82 L202.82,304.89 L202.37,305.93 L201.74,306.94 L200.94,307.92 L199.98,308.84 L198.87,309.70 L197.62,310.50Z" fill="none" stroke="#231815" stroke-width="1.0" stroke-linecap="round" stroke-linejoin="round"/>
<path d="M191.73,307.10 L190.96,307.51 L190.12,307.87 L189.22,308.18 L188.28,308.43 L187.29,308.64 L186.28,308.78 L185.24,308.87 L184.20,308.90 L183.16,308.87 L182.12,308.78 L181.11,308.64 L180.12,308.43 L179.18,308.18 L178.28,307.87 L177.44,307.51 L176.67,307.10 L175.96,306.65 L175.34,306.17 L174.80,305.65 L174.36,305.10 L174.00,304.54 L173.75,303.95 L173.60,303.35 L173.54,302.75 L173.60,302.15 L173.75,301.55 L174.00,300.96 L174.36,300.40 L174.80,299.85 L175.34,299.33 L175.96,298.85 L176.67,298.40 L177.44,297.99 L178.28,297.63 L179.18,297.32 L180.12,297.07 L181.11,296.86 L182.12,296.72 L183.16,296.63 L184.20,296.60 L185.24,296.63 L186.28,296.72 L187.29,296.86 L188.28,297.07 L189.22,297.32 L190.12,297.63 L190.96,297.99 L191.73,298.40 L192.44,298.85 L193.06,299.33 L193.60,299.85 L194.04,300.40 L194.40,300.96 L194.65,301.55 L194.80,302.15 L194.86,302.75 L194.80,303.35 L194.65,303.95 L194.40,304.54 L194.04,305.10 L193.60,305.65 L193.06,306.17 L192.44,306.65 L191.73,307.10Z" fill="#fff" stroke="#231815" stroke-width="1.0" stroke-linecap="round" stroke-linejoin="round"/>
<path d="M191.73,310.60 L190.96,311.01 L190.12,311.37 L189.22,311.68 L188.28,311.93 L187.29,312.14 L186.28,312.28 L185.24,312.37 L184.20,312.40 L183.16,312.37 L182.12,312.28 L181.11,312.14 L180.12,311.93 L179.18,311.68 L178.28,311.37 L177.44,311.01 L176.67,310.60 L175.96,310.15 L175.34,309.67 L174.80,309.15 L174.36,308.60 L174.00,308.04 L173.75,307.45 L173.60,306.85 L173.54,306.25 L173.60,305.65 L173.75,305.05 L174.00,304.46 L174.36,303.90 L174.80,303.35 L175.34,302.83 L175.96,302.35 L176.67,301.90 L177.44,301.49 L178.28,301.13 L179.18,300.82 L180.12,300.57 L181.11,300.36 L182.12,300.22 L183.16,300.13 L184.20,300.10 L185.24,300.13 L186.28,300.22 L187.29,300.36 L188.28,300.57 L189.22,300.82 L190.12,301.13 L190.96,301.49 L191.73,301.90 L192.44,302.35 L193.06,302.83 L193.60,303.35 L194.04,303.90 L194.40,304.46 L194.65,305.05 L194.80,305.65 L194.86,306.25 L194.80,306.85 L194.65,307.45 L194.40,308.04 L194.04,308.60 L193.60,309.15 L193.06,309.67 L192.44,310.15 L191.73,310.60Z" fill="none" stroke="#231815" stroke-width="0.9" stroke-linecap="round" stroke-linejoin="round"/>
<path d="M346.77,148.00 L346.77,184.00 L346.74,184.43 L346.64,184.86 L346.48,185.28 L346.26,185.69 L345.97,186.09 L345.62,186.47 L345.22,186.84 L344.77,187.18 L344.26,187.50 L343.71,187.79 L343.12,188.05 L342.49,188.29 L341.82,188.49 L341.13,188.65 L340.42,188.78 L339.69,188.87 L338.95,188.93 L338.20,188.95 L337.45,188.93 L336.71,188.87 L335.98,188.78 L335.27,188.65 L334.58,188.49 L333.91,188.29 L333.28,188.05 L332.69,187.79 L332.14,187.50 L331.63,187.18 L331.18,186.84 L330.78,186.47 L330.43,186.09 L330.14,185.69 L329.92,185.28 L329.76,184.86 L329.66,184.43 L329.63,184.00 L329.63,148.00" fill="#fff" stroke="#231815" stroke-width="1.1" stroke-linecap="round" stroke-linejoin="round"/>
<path d="M346.77,152.00 L346.70,152.65 L346.48,153.28 L346.12,153.89 L345.62,154.47 L345.00,155.01 L344.26,155.50 L343.42,155.93 L342.49,156.29 L341.48,156.57 L340.42,156.78 L339.32,156.91 L338.20,156.95 L337.08,156.91 L335.98,156.78 L334.92,156.57 L333.91,156.29 L332.98,155.93 L332.14,155.50 L331.40,155.01 L330.78,154.47 L330.28,153.89 L329.92,153.28 L329.70,152.65 L329.63,152.00" fill="none" stroke="#231815" stroke-width="0.9" stroke-linecap="round" stroke-linejoin="round"/>
<path d="M346.77,156.00 L346.70,156.65 L346.48,157.28 L346.12,157.89 L345.62,158.47 L345.00,159.01 L344.26,159.50 L343.42,159.93 L342.49,160.29 L341.48,160.57 L340.42,160.78 L339.32,160.91 L338.20,160.95 L337.08,160.91 L335.98,160.78 L334.92,160.57 L333.91,160.29 L332.98,159.93 L332.14,159.50 L331.40,159.01 L330.78,158.47 L330.28,157.89 L329.92,157.28 L329.70,156.65 L329.63,156.00" fill="none" stroke="#231815" stroke-width="0.9" stroke-linecap="round" stroke-linejoin="round"/>
<path d="M346.77,160.00 L346.70,160.65 L346.48,161.28 L346.12,161.89 L345.62,162.47 L345.00,163.01 L344.26,163.50 L343.42,163.93 L342.49,164.29 L341.48,164.57 L340.42,164.78 L339.32,164.91 L338.20,164.95 L337.08,164.91 L335.98,164.78 L334.92,164.57 L333.91,164.29 L332.98,163.93 L332.14,163.50 L331.40,163.01 L330.78,162.47 L330.28,161.89 L329.92,161.28 L329.70,160.65 L329.63,160.00" fill="none" stroke="#231815" stroke-width="0.9" stroke-linecap="round" stroke-linejoin="round"/>
<path d="M346.77,164.00 L346.70,164.65 L346.48,165.28 L346.12,165.89 L345.62,166.47 L345.00,167.01 L344.26,167.50 L343.42,167.93 L342.49,168.29 L341.48,168.57 L340.42,168.78 L339.32,168.91 L338.20,168.95 L337.08,168.91 L335.98,168.78 L334.92,168.57 L333.91,168.29 L332.98,167.93 L332.14,167.50 L331.40,167.01 L330.78,166.47 L330.28,165.89 L329.92,165.28 L329.70,164.65 L329.63,164.00" fill="none" stroke="#231815" stroke-width="0.9" stroke-linecap="round" stroke-linejoin="round"/>
<path d="M346.77,168.00 L346.70,168.65 L346.48,169.28 L346.12,169.89 L345.62,170.47 L345.00,171.01 L344.26,171.50 L343.42,171.93 L342.49,172.29 L341.48,172.57 L340.42,172.78 L339.32,172.91 L338.20,172.95 L337.08,172.91 L335.98,172.78 L334.92,172.57 L333.91,172.29 L332.98,171.93 L332.14,171.50 L331.40,171.01 L330.78,170.47 L330.28,169.89 L329.92,169.28 L329.70,168.65 L329.63,168.00" fill="none" stroke="#231815" stroke-width="0.9" stroke-linecap="round" stroke-linejoin="round"/>
<path d="M346.77,172.00 L346.70,172.65 L346.48,173.28 L346.12,173.89 L345.62,174.47 L345.00,175.01 L344.26,175.50 L343.42,175.93 L342.49,176.29 L341.48,176.57 L340.42,176.78 L339.32,176.91 L338.20,176.95 L337.08,176.91 L335.98,176.78 L334.92,176.57 L333.91,176.29 L332.98,175.93 L332.14,175.50 L331.40,175.01 L330.78,174.47 L330.28,173.89 L329.92,173.28 L329.70,172.65 L329.63,172.00" fill="none" stroke="#231815" stroke-width="0.9" stroke-linecap="round" stroke-linejoin="round"/>
<path d="M346.77,176.00 L346.70,176.65 L346.48,177.28 L346.12,177.89 L345.62,178.47 L345.00,179.01 L344.26,179.50 L343.42,179.93 L342.49,180.29 L341.48,180.57 L340.42,180.78 L339.32,180.91 L338.20,180.95 L337.08,180.91 L335.98,180.78 L334.92,180.57 L333.91,180.29 L332.98,179.93 L332.14,179.50 L331.40,179.01 L330.78,178.47 L330.28,177.89 L329.92,177.28 L329.70,176.65 L329.63,176.00" fill="none" stroke="#231815" stroke-width="0.9" stroke-linecap="round" stroke-linejoin="round"/>
<path d="M346.77,180.00 L346.70,180.65 L346.48,181.28 L346.12,181.89 L345.62,182.47 L345.00,183.01 L344.26,183.50 L343.42,183.93 L342.49,184.29 L341.48,184.57 L340.42,184.78 L339.32,184.91 L338.20,184.95 L337.08,184.91 L335.98,184.78 L334.92,184.57 L333.91,184.29 L332.98,183.93 L332.14,183.50 L331.40,183.01 L330.78,182.47 L330.28,181.89 L329.92,181.28 L329.70,180.65 L329.63,180.00" fill="none" stroke="#231815" stroke-width="0.9" stroke-linecap="round" stroke-linejoin="round"/>
<path d="M346.77,184.00 L346.70,184.65 L346.48,185.28 L346.12,185.89 L345.62,186.47 L345.00,187.01 L344.26,187.50 L343.42,187.93 L342.49,188.29 L341.48,188.57 L340.42,188.78 L339.32,188.91 L338.20,188.95 L337.08,188.91 L335.98,188.78 L334.92,188.57 L333.91,188.29 L332.98,187.93 L332.14,187.50 L331.40,187.01 L330.78,186.47 L330.28,185.89 L329.92,185.28 L329.70,184.65 L329.63,184.00" fill="none" stroke="#231815" stroke-width="0.9" stroke-linecap="round" stroke-linejoin="round"/>
<path d="M319.71,138.80 L319.78,137.87 L319.99,136.95 L320.34,136.04 L320.82,135.15 L321.44,134.29 L322.18,133.46 L323.05,132.68 L324.03,131.94 L325.12,131.25 L326.31,130.62 L327.59,130.05 L328.95,129.55 L330.38,129.12 L331.88,128.77 L333.41,128.49 L334.99,128.28 L336.59,128.16 L338.20,128.12 L339.81,128.16 L341.41,128.28 L342.99,128.49 L344.52,128.77 L346.02,129.12 L347.45,129.55 L348.81,130.05 L350.09,130.62 L351.28,131.25 L352.37,131.94 L353.35,132.68 L354.22,133.46 L354.96,134.29 L355.58,135.15 L356.06,136.04 L356.41,136.95 L356.62,137.87 L356.69,138.80 L356.69,148.00 L347.45,157.25 L328.95,157.25 L319.71,148.00Z" fill="#fff" stroke="#231815" stroke-width="1.1" stroke-linecap="round" stroke-linejoin="round"/>
<path d="M346.80,147.40 L347.45,157.25" fill="none" stroke="#231815" stroke-width="1.0" stroke-linecap="round" stroke-linejoin="round"/>
<path d="M329.60,147.40 L328.95,157.25" fill="none" stroke="#231815" stroke-width="1.0" stroke-linecap="round" stroke-linejoin="round"/>
<path d="M321.00,138.80 L319.71,148.00" fill="none" stroke="#231815" stroke-width="1.0" stroke-linecap="round" stroke-linejoin="round"/>
<path d="M355.40,138.80 L356.69,148.00" fill="none" stroke="#231815" stroke-width="1.0" stroke-linecap="round" stroke-linejoin="round"/>
<path d="M346.80,147.40 L329.60,147.40 L321.00,138.80 L329.60,130.20 L346.80,130.20 L355.40,138.80Z" fill="none" stroke="#231815" stroke-width="1.0" stroke-linecap="round" stroke-linejoin="round"/>
<path d="M351.28,146.35 L350.09,146.98 L348.81,147.55 L347.45,148.05 L346.02,148.48 L344.53,148.83 L342.99,149.11 L341.41,149.32 L339.81,149.44 L338.20,149.48 L336.59,149.44 L334.99,149.32 L333.41,149.11 L331.87,148.83 L330.38,148.48 L328.95,148.05 L327.59,147.55 L326.31,146.98 L325.12,146.35 L324.03,145.66 L323.05,144.92 L322.18,144.14 L321.44,143.31 L320.82,142.45 L320.34,141.56 L319.99,140.65 L319.78,139.73 L319.71,138.80 L319.78,137.87 L319.99,136.95 L320.34,136.04 L320.82,135.15 L321.44,134.29 L322.18,133.46 L323.05,132.68 L324.03,131.94 L325.12,131.25 L326.31,130.62 L327.59,130.05 L328.95,129.55 L330.38,129.12 L331.87,128.77 L333.41,128.49 L334.99,128.28 L336.59,128.16 L338.20,128.12 L339.81,128.16 L341.41,128.28 L342.99,128.49 L344.53,128.77 L346.02,129.12 L347.45,129.55 L348.81,130.05 L350.09,130.62 L351.28,131.25 L352.37,131.94 L353.35,132.68 L354.22,133.46 L354.96,134.29 L355.58,135.15 L356.06,136.04 L356.41,136.95 L356.62,137.87 L356.69,138.80 L356.62,139.73 L356.41,140.65 L356.06,141.56 L355.58,142.45 L354.96,143.31 L354.22,144.14 L353.35,144.92 L352.37,145.66 L351.28,146.35Z" fill="none" stroke="#231815" stroke-width="1.3" stroke-linecap="round" stroke-linejoin="round"/>
<path d="M361.99,146.80 L368.39,130.28 L381.21,122.88 L391.61,128.88 L398.01,138.00 L391.61,154.52 L378.79,161.92 L368.39,155.92Z" fill="#fff" stroke="#231815" stroke-width="1.1" stroke-linecap="round" stroke-linejoin="round"/>
<path d="M372.38,152.80 L361.99,146.80" fill="none" stroke="#231815" stroke-width="1.0" stroke-linecap="round" stroke-linejoin="round"/>
<path d="M378.79,136.28 L368.40,130.28" fill="none" stroke="#231815" stroke-width="1.0" stroke-linecap="round" stroke-linejoin="round"/>
<path d="M391.60,128.88 L381.21,122.88" fill="none" stroke="#231815" stroke-width="1.0" stroke-linecap="round" stroke-linejoin="round"/>
<path d="M378.79,161.92 L368.40,155.92" fill="none" stroke="#231815" stroke-width="1.0" stroke-linecap="round" stroke-linejoin="round"/>
<path d="M372.38,152.80 L378.79,136.28 L391.60,128.88 L398.01,138.00 L391.60,154.52 L378.79,161.92Z" fill="none" stroke="#231815" stroke-width="1.0" stroke-linecap="round" stroke-linejoin="round"/>
<path d="M380.35,148.20 L380.37,147.64 L380.44,147.05 L380.56,146.45 L380.72,145.84 L380.92,145.23 L381.16,144.62 L381.45,144.01 L381.77,143.42 L382.12,142.85 L382.50,142.30 L382.91,141.78 L383.34,141.30 L383.79,140.85 L384.25,140.45 L384.72,140.10 L385.20,139.80 L385.67,139.55 L386.14,139.36 L386.60,139.23 L387.05,139.15 L387.48,139.14 L387.89,139.19 L388.27,139.29 L388.63,139.46 L388.95,139.68 L389.23,139.96 L389.47,140.29 L389.68,140.67 L389.84,141.09 L389.95,141.56 L390.02,142.06 L390.05,142.60 L390.02,143.16 L389.95,143.75 L389.84,144.35 L389.68,144.96 L389.47,145.57 L389.23,146.18 L388.95,146.79 L388.63,147.38 L388.27,147.95 L387.89,148.50 L387.48,149.02 L387.05,149.50 L386.60,149.95 L386.14,150.35 L385.67,150.70 L385.20,151.00 L384.72,151.25 L384.25,151.44 L383.79,151.57 L383.34,151.65 L382.91,151.66 L382.50,151.61 L382.12,151.51 L381.77,151.34 L381.45,151.12 L381.16,150.84 L380.92,150.51 L380.72,150.13 L380.56,149.71 L380.44,149.24 L380.37,148.74 L380.35,148.20Z" fill="#fff" stroke="#231815" stroke-width="1.1" stroke-linecap="round" stroke-linejoin="round"/>
<path d="M380.45,147.14 L380.47,146.69 L380.52,146.22 L380.62,145.74 L380.75,145.26 L380.91,144.76 L381.10,144.27 L381.33,143.79 L381.59,143.32 L381.87,142.86 L382.17,142.42 L382.50,142.00 L382.85,141.62 L383.20,141.26 L383.57,140.94 L383.95,140.66 L384.33,140.42 L384.71,140.22 L385.09,140.07 L385.46,139.96 L385.81,139.90 L386.16,139.89 L386.49,139.93 L386.79,140.02 L387.07,140.15 L387.33,140.33 L387.56,140.55 L387.75,140.81 L387.91,141.12 L388.04,141.46 L388.14,141.83 L388.19,142.23 L388.21,142.66 L388.19,143.11 L388.14,143.58 L388.04,144.06 L387.91,144.54 L387.75,145.04 L387.56,145.53 L387.33,146.01 L387.07,146.48 L386.79,146.94 L386.49,147.38 L386.16,147.80 L385.81,148.18 L385.46,148.54 L385.09,148.86 L384.71,149.14 L384.33,149.38 L383.95,149.58 L383.57,149.73 L383.20,149.84 L382.85,149.90 L382.50,149.91 L382.17,149.87 L381.87,149.78 L381.59,149.65 L381.33,149.47 L381.10,149.25 L380.91,148.99 L380.75,148.68 L380.62,148.34 L380.52,147.97 L380.47,147.57 L380.45,147.14Z" fill="none" stroke="#231815" stroke-width="0.8" stroke-linecap="round" stroke-linejoin="round"/>
<path d="M379.64,140.36 L384.68,150.44" fill="none" stroke="#231815" stroke-width="0.6" stroke-linecap="round" stroke-linejoin="round"/>
<path d="M381.84,140.36 L386.88,150.44" fill="none" stroke="#231815" stroke-width="0.6" stroke-linecap="round" stroke-linejoin="round"/>
<path d="M384.04,140.36 L389.08,150.44" fill="none" stroke="#231815" stroke-width="0.6" stroke-linecap="round" stroke-linejoin="round"/>
<path d="M401.26,172.65 L401.33,170.88 L401.55,169.05 L401.92,167.16 L402.42,165.25 L403.06,163.31 L403.83,161.39 L404.72,159.49 L405.72,157.63 L406.83,155.83 L408.03,154.10 L409.32,152.48 L410.67,150.96 L412.08,149.56 L413.53,148.31 L415.01,147.20 L416.50,146.25 L418.00,145.47 L419.48,144.87 L420.93,144.45 L422.33,144.22 L423.69,144.18 L424.97,144.33 L426.17,144.66 L427.28,145.18 L429.88,146.68 L430.88,147.38 L431.77,148.25 L432.54,149.29 L433.18,150.49 L433.69,151.82 L434.05,153.28 L434.27,154.87 L434.34,156.55 L434.27,158.32 L434.05,160.15 L433.69,162.04 L433.18,163.96 L432.54,165.89 L431.77,167.81 L430.88,169.71 L429.88,171.57 L428.77,173.37 L427.57,175.09 L426.28,176.72 L424.93,178.24 L423.52,179.64 L422.07,180.90 L420.59,182.00 L419.10,182.95 L417.61,183.73 L416.12,184.33 L414.68,184.75 L413.27,184.98 L411.91,185.02 L410.63,184.87 L409.43,184.54 L408.32,184.02 L405.72,182.52 L404.72,181.82 L403.83,180.94 L403.06,179.91 L402.42,178.72 L401.92,177.38 L401.55,175.91 L401.33,174.33Z" fill="#fff" stroke="#231815" stroke-width="1.0" stroke-linecap="round" stroke-linejoin="round"/>
<path d="M403.86,174.15 L403.93,172.38 L404.15,170.55 L404.51,168.66 L405.02,166.74 L405.66,164.81 L406.43,162.89 L407.32,160.99 L408.32,159.13 L409.43,157.33 L410.63,155.61 L411.91,153.98 L413.27,152.46 L414.67,151.06 L416.13,149.80 L417.61,148.70 L419.10,147.75 L420.59,146.97 L422.07,146.37 L423.52,145.95 L424.93,145.72 L426.28,145.68 L427.57,145.83 L428.77,146.16 L429.88,146.68 L430.88,147.38 L431.77,148.26 L432.54,149.29 L433.18,150.48 L433.68,151.82 L434.05,153.29 L434.27,154.87 L434.34,156.55 L434.27,158.32 L434.05,160.15 L433.68,162.04 L433.18,163.96 L432.54,165.89 L431.77,167.81 L430.88,169.71 L429.88,171.57 L428.77,173.37 L427.57,175.09 L426.28,176.72 L424.93,178.24 L423.52,179.64 L422.07,180.90 L420.59,182.00 L419.10,182.95 L417.61,183.73 L416.13,184.33 L414.67,184.75 L413.27,184.98 L411.91,185.02 L410.63,184.87 L409.43,184.54 L408.32,184.02 L407.32,183.32 L406.43,182.44 L405.66,181.41 L405.02,180.22 L404.51,178.88 L404.15,177.41 L403.93,175.83 L403.86,174.15Z" fill="none" stroke="#231815" stroke-width="1.0" stroke-linecap="round" stroke-linejoin="round"/>
<path d="M411.91,169.50 L411.95,168.67 L412.05,167.80 L412.22,166.91 L412.46,166.01 L412.76,165.10 L413.12,164.19 L413.54,163.29 L414.02,162.42 L414.54,161.57 L415.11,160.75 L415.71,159.99 L416.35,159.27 L417.01,158.61 L417.70,158.02 L418.39,157.50 L419.10,157.05 L419.80,156.68 L420.50,156.40 L421.19,156.20 L421.85,156.09 L422.49,156.07 L423.09,156.14 L423.66,156.30 L424.18,156.55 L424.66,156.88 L425.08,157.29 L425.44,157.78 L425.74,158.34 L425.98,158.97 L426.15,159.66 L426.25,160.41 L426.29,161.20 L426.25,162.03 L426.15,162.90 L425.98,163.79 L425.74,164.69 L425.44,165.60 L425.08,166.51 L424.66,167.41 L424.18,168.28 L423.66,169.13 L423.09,169.95 L422.49,170.71 L421.85,171.43 L421.19,172.09 L420.50,172.68 L419.80,173.20 L419.10,173.65 L418.39,174.02 L417.70,174.30 L417.01,174.50 L416.35,174.61 L415.71,174.63 L415.11,174.56 L414.54,174.40 L414.02,174.15 L413.54,173.82 L413.12,173.41 L412.76,172.92 L412.46,172.36 L412.22,171.73 L412.05,171.04 L411.95,170.29 L411.91,169.50Z" fill="#fff" stroke="#231815" stroke-width="1.0" stroke-linecap="round" stroke-linejoin="round"/>
<path d="M409.31,168.00 L409.35,167.17 L409.45,166.30 L409.62,165.41 L409.86,164.51 L410.16,163.60 L410.52,162.69 L410.94,161.79 L411.42,160.92 L411.94,160.07 L412.51,159.25 L413.11,158.49 L413.75,157.77 L414.41,157.11 L415.10,156.52 L415.80,156.00 L416.50,155.55 L417.21,155.18 L417.90,154.90 L418.59,154.70 L419.25,154.59 L419.89,154.57 L420.49,154.64 L421.06,154.80 L421.58,155.05 L422.06,155.38 L422.48,155.79 L422.84,156.28 L423.14,156.84 L423.38,157.47 L423.55,158.16 L423.65,158.91 L423.69,159.70 L423.65,160.53 L423.55,161.40 L423.38,162.29 L423.14,163.19 L422.84,164.10 L422.48,165.01 L422.06,165.91 L421.58,166.78 L421.06,167.63 L420.49,168.45 L419.89,169.21 L419.25,169.93 L418.59,170.59 L417.90,171.18 L417.21,171.70 L416.50,172.15 L415.80,172.52 L415.10,172.80 L414.41,173.00 L413.75,173.11 L413.11,173.13 L412.51,173.06 L411.94,172.90 L411.42,172.65 L410.94,172.32 L410.52,171.91 L410.16,171.42 L409.86,170.86 L409.62,170.23 L409.45,169.54 L409.35,168.79 L409.31,168.00Z" fill="none" stroke="#231815" stroke-width="0.9" stroke-linecap="round" stroke-linejoin="round"/>
<path d="M317.43,210.43 L317.63,209.43 L318.01,208.43 L318.58,207.46 L319.32,206.52 L320.23,205.62 L321.31,204.77 L322.53,203.97 L323.90,203.23 L325.40,202.56 L327.02,201.97 L328.74,201.45 L330.55,201.02 L332.43,200.68 L334.36,200.43 L336.33,200.27 L338.33,200.20 L340.32,200.23 L342.31,200.36 L344.26,200.57 L346.16,200.88 L348.00,201.28 L349.75,201.77 L351.41,202.33 L352.95,202.97 L354.37,203.69 L355.65,204.46 L356.79,205.30 L357.76,206.18 L358.57,207.11 L359.20,208.07 L359.65,209.06 L359.92,210.06 L360.00,211.07 L359.89,212.08 L359.60,213.08 L359.12,214.07 L358.47,215.02 L357.64,215.95 L356.64,216.82 L355.48,217.65" fill="none" stroke="#231815" stroke-width="1.2" stroke-linecap="round" stroke-linejoin="round"/>
<path d="M327.57,213.80 L327.36,213.29 L327.24,212.77 L327.20,212.25 L327.25,211.72 L327.39,211.21 L327.62,210.70 L327.93,210.20 L328.33,209.72 L328.80,209.26 L329.35,208.83 L329.96,208.42 L330.65,208.05 L331.39,207.71 L332.19,207.41 L333.03,207.15 L333.92,206.93 L334.84,206.75 L335.78,206.62 L336.74,206.54 L337.72,206.50 L338.69,206.51 L339.66,206.57 L340.62,206.67 L341.55,206.82 L342.46,207.02 L343.33,207.25 L344.15,207.53 L344.93,207.85 L345.65,208.20 L346.30,208.59 L346.89,209.01 L347.41,209.45 L347.85,209.92 L348.21,210.41 L348.48,210.91 L348.68,211.42 L348.78,211.94 L348.80,212.47 L348.72,212.99 L348.56,213.51" fill="none" stroke="#231815" stroke-width="1.1" stroke-linecap="round" stroke-linejoin="round"/>
<path d="M328.00,214.20 L328.03,213.79 L328.12,213.39 L328.28,212.99 L328.49,212.59 L328.76,212.21 L329.09,211.84 L329.47,211.48 L329.91,211.14 L330.40,210.82 L330.93,210.52 L331.51,210.25 L332.12,209.99 L332.78,209.77 L333.46,209.57 L334.17,209.40 L334.91,209.25 L335.67,209.14 L336.44,209.06 L337.22,209.02 L338.00,209.00 L338.78,209.02 L339.56,209.06 L340.33,209.14 L341.09,209.25 L341.83,209.40 L342.54,209.57 L343.22,209.77 L343.88,209.99 L344.49,210.25 L345.07,210.52 L345.60,210.82 L346.09,211.14 L346.53,211.48 L346.91,211.84 L347.24,212.21 L347.51,212.59 L347.72,212.99 L347.88,213.39 L347.97,213.79 L348.00,214.20" fill="none" stroke="#231815" stroke-width="1.0" stroke-linecap="round" stroke-linejoin="round"/>
<path d="M319.35,384.55 L329.02,374.88 L348.38,374.88 L358.05,384.55 L357.40,395.23 L357.19,396.40 L356.83,397.56 L356.34,398.68 L355.71,399.77 L354.96,400.82 L354.08,401.82 L353.08,402.76 L351.97,403.63 L350.76,404.43 L349.47,405.15 L348.08,405.78 L346.63,406.33 L345.12,406.78 L343.56,407.13 L341.96,407.39 L340.34,407.55 L338.70,407.60 L337.06,407.55 L335.44,407.39 L333.84,407.13 L332.28,406.78 L330.77,406.33 L329.31,405.78 L327.93,405.15 L326.63,404.43 L325.43,403.63 L324.32,402.76 L323.32,401.82 L322.44,400.82 L321.69,399.77 L321.06,398.68 L320.57,397.56 L320.21,396.40 L320.00,395.23Z" fill="#fff" stroke="#231815" stroke-width="3.2" stroke-linecap="round" stroke-linejoin="round"/>
<path d="M348.38,394.23 L348.38,403.73" fill="none" stroke="#231815" stroke-width="1.0" stroke-linecap="round" stroke-linejoin="round"/>
<path d="M329.02,394.23 L329.02,403.73" fill="none" stroke="#231815" stroke-width="1.0" stroke-linecap="round" stroke-linejoin="round"/>
<path d="M319.35,384.55 L319.35,394.05" fill="none" stroke="#231815" stroke-width="1.0" stroke-linecap="round" stroke-linejoin="round"/>
<path d="M358.05,384.55 L358.05,394.05" fill="none" stroke="#231815" stroke-width="1.0" stroke-linecap="round" stroke-linejoin="round"/>
<path d="M348.38,394.23 L329.02,394.23 L319.35,384.55 L329.02,374.87 L348.38,374.87 L358.05,384.55Z" fill="none" stroke="#231815" stroke-width="1.0" stroke-linecap="round" stroke-linejoin="round"/>
<path d="M344.76,388.05 L344.14,388.38 L343.46,388.67 L342.74,388.92 L341.98,389.12 L341.19,389.29 L340.37,389.40 L339.54,389.48 L338.70,389.50 L337.86,389.48 L337.03,389.40 L336.21,389.29 L335.42,389.12 L334.66,388.92 L333.94,388.67 L333.26,388.38 L332.64,388.05 L332.07,387.69 L331.57,387.30 L331.14,386.88 L330.78,386.44 L330.50,385.99 L330.29,385.52 L330.17,385.04 L330.13,384.55 L330.17,384.06 L330.29,383.58 L330.50,383.11 L330.78,382.66 L331.14,382.22 L331.57,381.80 L332.07,381.41 L332.64,381.05 L333.26,380.72 L333.94,380.43 L334.66,380.18 L335.42,379.98 L336.21,379.81 L337.03,379.70 L337.86,379.62 L338.70,379.60 L339.54,379.62 L340.37,379.70 L341.19,379.81 L341.98,379.98 L342.74,380.18 L343.46,380.43 L344.14,380.72 L344.76,381.05 L345.33,381.41 L345.83,381.80 L346.26,382.22 L346.62,382.66 L346.90,383.11 L347.11,383.58 L347.23,384.06 L347.27,384.55 L347.23,385.04 L347.11,385.52 L346.90,385.99 L346.62,386.44 L346.26,386.88 L345.83,387.30 L345.33,387.69 L344.76,388.05Z" fill="#5a504c" stroke="#231815" stroke-width="2.6" stroke-linecap="round" stroke-linejoin="round"/>
<path d="M342.46,388.22 L342.07,388.42 L341.65,388.60 L341.21,388.76 L340.73,388.89 L340.24,388.99 L339.74,389.06 L339.22,389.10 L338.70,389.12 L338.18,389.10 L337.66,389.06 L337.16,388.99 L336.67,388.89 L336.19,388.76 L335.75,388.60 L335.33,388.42 L334.94,388.22 L334.59,388.00 L334.28,387.75 L334.01,387.50 L333.79,387.22 L333.61,386.94 L333.49,386.65 L333.41,386.35 L333.38,386.05 L333.41,385.75 L333.49,385.45 L333.61,385.16 L333.79,384.88 L334.01,384.60 L334.28,384.35 L334.59,384.10 L334.94,383.88 L335.33,383.68 L335.75,383.50 L336.19,383.34 L336.67,383.21 L337.16,383.11 L337.66,383.04 L338.18,383.00 L338.70,382.98 L339.22,383.00 L339.74,383.04 L340.24,383.11 L340.73,383.21 L341.21,383.34 L341.65,383.50 L342.07,383.68 L342.46,383.88 L342.81,384.10 L343.12,384.35 L343.39,384.60 L343.61,384.88 L343.79,385.16 L343.91,385.45 L343.99,385.75 L344.02,386.05 L343.99,386.35 L343.91,386.65 L343.79,386.94 L343.61,387.22 L343.39,387.50 L343.12,387.75 L342.81,388.00 L342.46,388.22Z" fill="none" stroke="#fff" stroke-width="0.9" stroke-linecap="round" stroke-linejoin="round" stroke-dasharray="1.5,1.2"/>
<path d="M340.82,388.78 L340.60,388.89 L340.37,388.99 L340.11,389.08 L339.85,389.15 L339.57,389.21 L339.29,389.25 L338.99,389.27 L338.70,389.28 L338.41,389.27 L338.11,389.25 L337.83,389.21 L337.55,389.15 L337.29,389.08 L337.03,388.99 L336.80,388.89 L336.58,388.78 L336.38,388.65 L336.21,388.51 L336.05,388.37 L335.93,388.21 L335.83,388.05 L335.76,387.89 L335.71,387.72 L335.70,387.55 L335.71,387.38 L335.76,387.21 L335.83,387.05 L335.93,386.89 L336.05,386.73 L336.21,386.59 L336.38,386.45 L336.58,386.32 L336.80,386.21 L337.03,386.11 L337.29,386.02 L337.55,385.95 L337.83,385.89 L338.11,385.85 L338.41,385.83 L338.70,385.82 L338.99,385.83 L339.29,385.85 L339.57,385.89 L339.85,385.95 L340.11,386.02 L340.37,386.11 L340.60,386.21 L340.82,386.32 L341.02,386.45 L341.19,386.59 L341.35,386.73 L341.47,386.89 L341.57,387.05 L341.64,387.21 L341.69,387.38 L341.70,387.55 L341.69,387.72 L341.64,387.89 L341.57,388.05 L341.47,388.21 L341.35,388.37 L341.19,388.51 L341.02,388.65 L340.82,388.78Z" fill="none" stroke="#fff" stroke-width="0.9" stroke-linecap="round" stroke-linejoin="round" stroke-dasharray="1.5,1.2"/>
<path d="M162.45,474.55 L172.12,464.88 L191.47,464.88 L201.15,474.55 L200.50,485.23 L200.28,486.40 L199.93,487.56 L199.44,488.68 L198.81,489.77 L198.06,490.82 L197.18,491.82 L196.18,492.76 L195.07,493.63 L193.87,494.43 L192.57,495.15 L191.19,495.78 L189.73,496.33 L188.22,496.78 L186.66,497.13 L185.06,497.39 L183.44,497.55 L181.80,497.60 L180.16,497.55 L178.54,497.39 L176.94,497.13 L175.38,496.78 L173.87,496.33 L172.41,495.78 L171.03,495.15 L169.74,494.43 L168.53,493.63 L167.42,492.76 L166.42,491.82 L165.54,490.82 L164.79,489.77 L164.16,488.68 L163.67,487.56 L163.31,486.40 L163.10,485.23Z" fill="#fff" stroke="#231815" stroke-width="3.2" stroke-linecap="round" stroke-linejoin="round"/>
<path d="M191.48,484.23 L191.48,493.73" fill="none" stroke="#231815" stroke-width="1.0" stroke-linecap="round" stroke-linejoin="round"/>
<path d="M172.12,484.23 L172.12,493.73" fill="none" stroke="#231815" stroke-width="1.0" stroke-linecap="round" stroke-linejoin="round"/>
<path d="M162.45,474.55 L162.45,484.05" fill="none" stroke="#231815" stroke-width="1.0" stroke-linecap="round" stroke-linejoin="round"/>
<path d="M201.15,474.55 L201.15,484.05" fill="none" stroke="#231815" stroke-width="1.0" stroke-linecap="round" stroke-linejoin="round"/>
<path d="M191.48,484.23 L172.12,484.23 L162.45,474.55 L172.12,464.87 L191.48,464.87 L201.15,474.55Z" fill="none" stroke="#231815" stroke-width="1.0" stroke-linecap="round" stroke-linejoin="round"/>
<path d="M187.86,478.05 L187.24,478.38 L186.56,478.67 L185.84,478.92 L185.08,479.12 L184.29,479.29 L183.47,479.40 L182.64,479.48 L181.80,479.50 L180.96,479.48 L180.13,479.40 L179.31,479.29 L178.52,479.12 L177.76,478.92 L177.04,478.67 L176.36,478.38 L175.74,478.05 L175.17,477.69 L174.67,477.30 L174.24,476.88 L173.88,476.44 L173.60,475.99 L173.39,475.52 L173.27,475.04 L173.23,474.55 L173.27,474.06 L173.39,473.58 L173.60,473.11 L173.88,472.66 L174.24,472.22 L174.67,471.80 L175.17,471.41 L175.74,471.05 L176.36,470.72 L177.04,470.43 L177.76,470.18 L178.52,469.98 L179.31,469.81 L180.13,469.70 L180.96,469.62 L181.80,469.60 L182.64,469.62 L183.47,469.70 L184.29,469.81 L185.08,469.98 L185.84,470.18 L186.56,470.43 L187.24,470.72 L187.86,471.05 L188.43,471.41 L188.93,471.80 L189.36,472.22 L189.72,472.66 L190.00,473.11 L190.21,473.58 L190.33,474.06 L190.37,474.55 L190.33,475.04 L190.21,475.52 L190.00,475.99 L189.72,476.44 L189.36,476.88 L188.93,477.30 L188.43,477.69 L187.86,478.05Z" fill="#5a504c" stroke="#231815" stroke-width="2.6" stroke-linecap="round" stroke-linejoin="round"/>
<path d="M185.56,478.22 L185.17,478.42 L184.75,478.60 L184.31,478.76 L183.83,478.89 L183.34,478.99 L182.84,479.06 L182.32,479.10 L181.80,479.12 L181.28,479.10 L180.76,479.06 L180.26,478.99 L179.77,478.89 L179.29,478.76 L178.85,478.60 L178.43,478.42 L178.04,478.22 L177.69,478.00 L177.38,477.75 L177.11,477.50 L176.89,477.22 L176.71,476.94 L176.59,476.65 L176.51,476.35 L176.48,476.05 L176.51,475.75 L176.59,475.45 L176.71,475.16 L176.89,474.88 L177.11,474.60 L177.38,474.35 L177.69,474.10 L178.04,473.88 L178.43,473.68 L178.85,473.50 L179.29,473.34 L179.77,473.21 L180.26,473.11 L180.76,473.04 L181.28,473.00 L181.80,472.98 L182.32,473.00 L182.84,473.04 L183.34,473.11 L183.83,473.21 L184.31,473.34 L184.75,473.50 L185.17,473.68 L185.56,473.88 L185.91,474.10 L186.22,474.35 L186.49,474.60 L186.71,474.88 L186.89,475.16 L187.01,475.45 L187.09,475.75 L187.12,476.05 L187.09,476.35 L187.01,476.65 L186.89,476.94 L186.71,477.22 L186.49,477.50 L186.22,477.75 L185.91,478.00 L185.56,478.22Z" fill="none" stroke="#fff" stroke-width="0.9" stroke-linecap="round" stroke-linejoin="round" stroke-dasharray="1.5,1.2"/>
<path d="M183.92,478.78 L183.70,478.89 L183.47,478.99 L183.21,479.08 L182.95,479.15 L182.67,479.21 L182.39,479.25 L182.09,479.27 L181.80,479.28 L181.51,479.27 L181.21,479.25 L180.93,479.21 L180.65,479.15 L180.39,479.08 L180.13,478.99 L179.90,478.89 L179.68,478.78 L179.48,478.65 L179.31,478.51 L179.15,478.37 L179.03,478.21 L178.93,478.05 L178.86,477.89 L178.81,477.72 L178.80,477.55 L178.81,477.38 L178.86,477.21 L178.93,477.05 L179.03,476.89 L179.15,476.73 L179.31,476.59 L179.48,476.45 L179.68,476.32 L179.90,476.21 L180.13,476.11 L180.39,476.02 L180.65,475.95 L180.93,475.89 L181.21,475.85 L181.51,475.83 L181.80,475.82 L182.09,475.83 L182.39,475.85 L182.67,475.89 L182.95,475.95 L183.21,476.02 L183.47,476.11 L183.70,476.21 L183.92,476.32 L184.12,476.45 L184.29,476.59 L184.45,476.73 L184.57,476.89 L184.67,477.05 L184.74,477.21 L184.79,477.38 L184.80,477.55 L184.79,477.72 L184.74,477.89 L184.67,478.05 L184.57,478.21 L184.45,478.37 L184.29,478.51 L184.12,478.65 L183.92,478.78Z" fill="none" stroke="#fff" stroke-width="0.9" stroke-linecap="round" stroke-linejoin="round" stroke-dasharray="1.5,1.2"/>
<path d="M227.50,397.50 L251.57,412.09" stroke="#231815" stroke-width="17.20" stroke-linecap="round" fill="none"/>
<path d="M250.90,401.63 L261.00,404.24 L247.94,425.79 L241.98,416.33Z" fill="#231815" stroke="none"/>
<path d="M232.85,393.50 L230.64,400.61" fill="none" stroke="#fff" stroke-width="1.6" stroke-linecap="butt" stroke-linejoin="round"/>
<path d="M235.93,395.37 L233.72,402.48" fill="none" stroke="#fff" stroke-width="1.6" stroke-linecap="butt" stroke-linejoin="round"/>
<path d="M239.00,397.23 L236.80,404.34" fill="none" stroke="#fff" stroke-width="1.6" stroke-linecap="butt" stroke-linejoin="round"/>
<path d="M242.08,399.10 L239.88,406.21" fill="none" stroke="#fff" stroke-width="1.6" stroke-linecap="butt" stroke-linejoin="round"/>
<path d="M245.16,400.97 L242.96,408.08" fill="none" stroke="#fff" stroke-width="1.6" stroke-linecap="butt" stroke-linejoin="round"/>
<path d="M248.24,402.83 L246.04,409.94" fill="none" stroke="#fff" stroke-width="1.6" stroke-linecap="butt" stroke-linejoin="round"/>
<ellipse cx="256.70" cy="415.20" rx="18.30" ry="10.60" transform="rotate(-56 256.70 415.20)" fill="#fff" stroke="#231815" stroke-width="4.0"/>
<path d="M336.50,225.00 L360.67,239.68" stroke="#231815" stroke-width="17.20" stroke-linecap="round" fill="none"/>
<path d="M360.01,229.22 L370.11,231.85 L357.03,253.38 L351.08,243.92Z" fill="#231815" stroke="none"/>
<path d="M341.85,221.01 L339.64,228.11" fill="none" stroke="#fff" stroke-width="1.6" stroke-linecap="butt" stroke-linejoin="round"/>
<path d="M344.93,222.88 L342.72,229.98" fill="none" stroke="#fff" stroke-width="1.6" stroke-linecap="butt" stroke-linejoin="round"/>
<path d="M348.01,224.74 L345.79,231.85" fill="none" stroke="#fff" stroke-width="1.6" stroke-linecap="butt" stroke-linejoin="round"/>
<path d="M351.08,226.61 L348.87,233.72" fill="none" stroke="#fff" stroke-width="1.6" stroke-linecap="butt" stroke-linejoin="round"/>
<path d="M354.16,228.48 L351.95,235.59" fill="none" stroke="#fff" stroke-width="1.6" stroke-linecap="butt" stroke-linejoin="round"/>
<path d="M357.24,230.35 L355.02,237.46" fill="none" stroke="#fff" stroke-width="1.6" stroke-linecap="butt" stroke-linejoin="round"/>
<ellipse cx="365.80" cy="242.80" rx="18.30" ry="10.60" transform="rotate(-56 365.80 242.80)" fill="#fff" stroke="#231815" stroke-width="4.0"/>
<path d="M447.00,257.00 L470.13,269.63" stroke="#231815" stroke-width="17.20" stroke-linecap="round" fill="none"/>
<path d="M468.99,259.20 L479.20,261.36 L467.13,283.48 L460.75,274.30Z" fill="#231815" stroke="none"/>
<path d="M452.16,252.76 L450.28,259.97" fill="none" stroke="#fff" stroke-width="1.6" stroke-linecap="butt" stroke-linejoin="round"/>
<path d="M455.32,254.49 L453.44,261.69" fill="none" stroke="#fff" stroke-width="1.6" stroke-linecap="butt" stroke-linejoin="round"/>
<path d="M458.48,256.21 L456.60,263.42" fill="none" stroke="#fff" stroke-width="1.6" stroke-linecap="butt" stroke-linejoin="round"/>
<path d="M461.64,257.94 L459.76,265.14" fill="none" stroke="#fff" stroke-width="1.6" stroke-linecap="butt" stroke-linejoin="round"/>
<path d="M464.80,259.66 L462.92,266.86" fill="none" stroke="#fff" stroke-width="1.6" stroke-linecap="butt" stroke-linejoin="round"/>
<path d="M467.96,261.39 L466.08,268.59" fill="none" stroke="#fff" stroke-width="1.6" stroke-linecap="butt" stroke-linejoin="round"/>
<ellipse cx="475.40" cy="272.50" rx="18.30" ry="10.60" transform="rotate(-56 475.40 272.50)" fill="#fff" stroke="#231815" stroke-width="4.0"/>
<path d="M1054.64,488.50 L1054.64,525.50 L1054.61,525.91 L1054.52,526.32 L1054.37,526.72 L1054.15,527.11 L1053.88,527.49 L1053.55,527.85 L1053.17,528.20 L1052.74,528.52 L1052.26,528.83 L1051.74,529.10 L1051.17,529.35 L1050.57,529.57 L1049.94,529.76 L1049.29,529.92 L1048.61,530.04 L1047.91,530.13 L1047.21,530.18 L1046.50,530.20 L1045.79,530.18 L1045.09,530.13 L1044.39,530.04 L1043.71,529.92 L1043.06,529.76 L1042.43,529.57 L1041.83,529.35 L1041.26,529.10 L1040.74,528.83 L1040.26,528.52 L1039.83,528.20 L1039.45,527.85 L1039.12,527.49 L1038.85,527.11 L1038.63,526.72 L1038.48,526.32 L1038.39,525.91 L1038.36,525.50 L1038.36,488.50Z" fill="#231815" stroke="#231815" stroke-width="3.0" stroke-linecap="round" stroke-linejoin="round"/>
<path d="M1040.64,493.60 L1047.72,493.00" fill="none" stroke="#fff" stroke-width="1.35" stroke-linecap="butt" stroke-linejoin="round"/>
<path d="M1040.64,497.32 L1047.72,496.72" fill="none" stroke="#fff" stroke-width="1.35" stroke-linecap="butt" stroke-linejoin="round"/>
<path d="M1040.64,501.04 L1047.72,500.44" fill="none" stroke="#fff" stroke-width="1.35" stroke-linecap="butt" stroke-linejoin="round"/>
<path d="M1040.64,504.77 L1047.72,504.17" fill="none" stroke="#fff" stroke-width="1.35" stroke-linecap="butt" stroke-linejoin="round"/>
<path d="M1040.64,508.49 L1047.72,507.89" fill="none" stroke="#fff" stroke-width="1.35" stroke-linecap="butt" stroke-linejoin="round"/>
<path d="M1040.64,512.21 L1047.72,511.61" fill="none" stroke="#fff" stroke-width="1.35" stroke-linecap="butt" stroke-linejoin="round"/>
<path d="M1040.64,515.93 L1047.72,515.33" fill="none" stroke="#fff" stroke-width="1.35" stroke-linecap="butt" stroke-linejoin="round"/>
<path d="M1040.64,519.66 L1047.72,519.06" fill="none" stroke="#fff" stroke-width="1.35" stroke-linecap="butt" stroke-linejoin="round"/>
<path d="M1040.64,523.38 L1047.72,522.78" fill="none" stroke="#fff" stroke-width="1.35" stroke-linecap="butt" stroke-linejoin="round"/>
<path d="M1040.64,527.10 L1047.72,526.50" fill="none" stroke="#fff" stroke-width="1.35" stroke-linecap="butt" stroke-linejoin="round"/>
<path d="M1027.64,479.50 L1027.71,478.55 L1027.92,477.61 L1028.28,476.68 L1028.78,475.78 L1029.41,474.90 L1030.17,474.06 L1031.05,473.25 L1032.05,472.50 L1033.16,471.80 L1034.38,471.16 L1035.68,470.58 L1037.07,470.07 L1038.53,469.63 L1040.05,469.27 L1041.62,468.98 L1043.22,468.78 L1044.86,468.65 L1046.50,468.61 L1048.14,468.65 L1049.78,468.78 L1051.38,468.98 L1052.95,469.27 L1054.47,469.63 L1055.93,470.07 L1057.32,470.58 L1058.62,471.16 L1059.84,471.80 L1060.95,472.50 L1061.95,473.25 L1062.83,474.06 L1063.59,474.90 L1064.22,475.78 L1064.72,476.68 L1065.08,477.61 L1065.29,478.55 L1065.36,479.50 L1065.36,488.50 L1055.93,497.93 L1037.07,497.93 L1027.64,488.50Z" fill="#fff" stroke="#231815" stroke-width="3.0" stroke-linecap="round" stroke-linejoin="round"/>
<path d="M1055.27,488.27 L1055.93,497.93" fill="none" stroke="#231815" stroke-width="1.0" stroke-linecap="round" stroke-linejoin="round"/>
<path d="M1037.73,488.27 L1037.07,497.93" fill="none" stroke="#231815" stroke-width="1.0" stroke-linecap="round" stroke-linejoin="round"/>
<path d="M1028.96,479.50 L1027.64,488.50" fill="none" stroke="#231815" stroke-width="1.0" stroke-linecap="round" stroke-linejoin="round"/>
<path d="M1064.04,479.50 L1065.36,488.50" fill="none" stroke="#231815" stroke-width="1.0" stroke-linecap="round" stroke-linejoin="round"/>
<path d="M1055.27,488.27 L1037.73,488.27 L1028.96,479.50 L1037.73,470.73 L1055.27,470.73 L1064.04,479.50Z" fill="none" stroke="#231815" stroke-width="1.0" stroke-linecap="round" stroke-linejoin="round"/>
<path d="M1059.84,487.20 L1058.62,487.84 L1057.32,488.42 L1055.93,488.93 L1054.47,489.37 L1052.95,489.73 L1051.38,490.02 L1049.78,490.22 L1048.14,490.35 L1046.50,490.39 L1044.86,490.35 L1043.22,490.22 L1041.62,490.02 L1040.05,489.73 L1038.53,489.37 L1037.07,488.93 L1035.68,488.42 L1034.38,487.84 L1033.16,487.20 L1032.05,486.50 L1031.05,485.75 L1030.17,484.94 L1029.41,484.10 L1028.78,483.22 L1028.28,482.32 L1027.93,481.39 L1027.71,480.45 L1027.64,479.50 L1027.71,478.55 L1027.93,477.61 L1028.28,476.68 L1028.78,475.78 L1029.41,474.90 L1030.17,474.06 L1031.05,473.25 L1032.05,472.50 L1033.16,471.80 L1034.38,471.16 L1035.68,470.58 L1037.07,470.07 L1038.53,469.63 L1040.05,469.27 L1041.62,468.98 L1043.22,468.78 L1044.86,468.65 L1046.50,468.61 L1048.14,468.65 L1049.78,468.78 L1051.38,468.98 L1052.95,469.27 L1054.47,469.63 L1055.93,470.07 L1057.32,470.58 L1058.62,471.16 L1059.84,471.80 L1060.95,472.50 L1061.95,473.25 L1062.83,474.06 L1063.59,474.90 L1064.22,475.78 L1064.72,476.68 L1065.07,477.61 L1065.29,478.55 L1065.36,479.50 L1065.29,480.45 L1065.07,481.39 L1064.72,482.32 L1064.22,483.22 L1063.59,484.10 L1062.83,484.94 L1061.95,485.75 L1060.95,486.50 L1059.84,487.20Z" fill="none" stroke="#231815" stroke-width="1.3" stroke-linecap="round" stroke-linejoin="round"/>
<path d="M1024.94,553.25 L1025.05,552.03 L1025.36,550.82 L1025.87,549.64 L1026.59,548.49 L1027.49,547.38 L1028.58,546.34 L1029.84,545.36 L1031.26,544.45 L1032.83,543.63 L1034.52,542.90 L1036.34,542.27 L1038.25,541.75 L1040.24,541.34 L1042.30,541.04 L1044.39,540.87 L1046.50,540.80 L1048.61,540.87 L1050.70,541.04 L1052.76,541.34 L1054.75,541.75 L1056.66,542.27 L1058.48,542.90 L1060.17,543.63 L1061.74,544.45 L1063.16,545.36 L1064.42,546.34 L1065.51,547.38 L1066.41,548.49 L1067.13,549.64 L1067.64,550.82 L1067.95,552.03 L1068.06,553.25 L1068.06,556.75 L1067.95,557.97 L1067.64,559.18 L1067.13,560.36 L1066.41,561.51 L1065.51,562.62 L1064.42,563.66 L1063.16,564.64 L1061.74,565.55 L1060.17,566.37 L1058.48,567.10 L1056.66,567.73 L1054.75,568.25 L1052.76,568.66 L1050.70,568.96 L1048.61,569.13 L1046.50,569.20 L1044.39,569.13 L1042.30,568.96 L1040.24,568.66 L1038.25,568.25 L1036.34,567.73 L1034.52,567.10 L1032.83,566.37 L1031.26,565.55 L1029.84,564.64 L1028.58,563.66 L1027.49,562.62 L1026.59,561.51 L1025.87,560.36 L1025.36,559.18 L1025.05,557.97 L1024.94,556.75Z" fill="#fff" stroke="#231815" stroke-width="3.2" stroke-linecap="round" stroke-linejoin="round"/>
<path d="M1053.95,557.55 L1053.18,557.95 L1052.35,558.31 L1051.47,558.61 L1050.53,558.87 L1049.56,559.07 L1048.55,559.21 L1047.53,559.30 L1046.50,559.33 L1045.47,559.30 L1044.45,559.21 L1043.44,559.07 L1042.47,558.87 L1041.53,558.61 L1040.65,558.31 L1039.82,557.95 L1039.05,557.55 L1038.36,557.11 L1037.74,556.63 L1037.21,556.12 L1036.77,555.58 L1036.42,555.02 L1036.17,554.44 L1036.02,553.85 L1035.97,553.25 L1036.02,552.65 L1036.17,552.06 L1036.42,551.48 L1036.77,550.92 L1037.21,550.38 L1037.74,549.87 L1038.36,549.39 L1039.05,548.95 L1039.82,548.55 L1040.65,548.19 L1041.53,547.89 L1042.47,547.63 L1043.44,547.43 L1044.45,547.29 L1045.47,547.20 L1046.50,547.17 L1047.53,547.20 L1048.55,547.29 L1049.56,547.43 L1050.53,547.63 L1051.47,547.89 L1052.35,548.19 L1053.18,548.55 L1053.95,548.95 L1054.64,549.39 L1055.26,549.87 L1055.79,550.38 L1056.23,550.92 L1056.58,551.48 L1056.83,552.06 L1056.98,552.65 L1057.03,553.25 L1056.98,553.85 L1056.83,554.44 L1056.58,555.02 L1056.23,555.58 L1055.79,556.12 L1055.26,556.63 L1054.64,557.11 L1053.95,557.55Z" fill="#fff" stroke="#231815" stroke-width="3.8" stroke-linecap="round" stroke-linejoin="round"/>
<path d="M898.14,643.00 L898.14,680.00 L898.11,680.41 L898.02,680.82 L897.87,681.22 L897.65,681.61 L897.38,681.99 L897.05,682.35 L896.67,682.70 L896.24,683.02 L895.76,683.33 L895.24,683.60 L894.67,683.85 L894.07,684.07 L893.44,684.26 L892.79,684.42 L892.11,684.54 L891.41,684.63 L890.71,684.68 L890.00,684.70 L889.29,684.68 L888.59,684.63 L887.89,684.54 L887.21,684.42 L886.56,684.26 L885.93,684.07 L885.33,683.85 L884.76,683.60 L884.24,683.33 L883.76,683.02 L883.33,682.70 L882.95,682.35 L882.62,681.99 L882.35,681.61 L882.13,681.22 L881.98,680.82 L881.89,680.41 L881.86,680.00 L881.86,643.00Z" fill="#231815" stroke="#231815" stroke-width="3.0" stroke-linecap="round" stroke-linejoin="round"/>
<path d="M884.14,648.10 L891.22,647.50" fill="none" stroke="#fff" stroke-width="1.35" stroke-linecap="butt" stroke-linejoin="round"/>
<path d="M884.14,651.82 L891.22,651.22" fill="none" stroke="#fff" stroke-width="1.35" stroke-linecap="butt" stroke-linejoin="round"/>
<path d="M884.14,655.54 L891.22,654.94" fill="none" stroke="#fff" stroke-width="1.35" stroke-linecap="butt" stroke-linejoin="round"/>
<path d="M884.14,659.27 L891.22,658.67" fill="none" stroke="#fff" stroke-width="1.35" stroke-linecap="butt" stroke-linejoin="round"/>
<path d="M884.14,662.99 L891.22,662.39" fill="none" stroke="#fff" stroke-width="1.35" stroke-linecap="butt" stroke-linejoin="round"/>
<path d="M884.14,666.71 L891.22,666.11" fill="none" stroke="#fff" stroke-width="1.35" stroke-linecap="butt" stroke-linejoin="round"/>
<path d="M884.14,670.43 L891.22,669.83" fill="none" stroke="#fff" stroke-width="1.35" stroke-linecap="butt" stroke-linejoin="round"/>
<path d="M884.14,674.16 L891.22,673.56" fill="none" stroke="#fff" stroke-width="1.35" stroke-linecap="butt" stroke-linejoin="round"/>
<path d="M884.14,677.88 L891.22,677.28" fill="none" stroke="#fff" stroke-width="1.35" stroke-linecap="butt" stroke-linejoin="round"/>
<path d="M884.14,681.60 L891.22,681.00" fill="none" stroke="#fff" stroke-width="1.35" stroke-linecap="butt" stroke-linejoin="round"/>
<path d="M871.14,634.00 L871.21,633.05 L871.42,632.11 L871.78,631.18 L872.28,630.28 L872.91,629.40 L873.67,628.55 L874.55,627.75 L875.55,627.00 L876.66,626.30 L877.88,625.66 L879.18,625.08 L880.57,624.57 L882.03,624.13 L883.55,623.77 L885.12,623.48 L886.73,623.28 L888.36,623.15 L890.00,623.11 L891.64,623.15 L893.27,623.28 L894.88,623.48 L896.45,623.77 L897.97,624.13 L899.43,624.57 L900.82,625.08 L902.12,625.66 L903.34,626.30 L904.45,627.00 L905.45,627.75 L906.33,628.55 L907.09,629.40 L907.72,630.28 L908.22,631.18 L908.58,632.11 L908.79,633.05 L908.86,634.00 L908.86,643.00 L899.43,652.43 L880.57,652.43 L871.14,643.00Z" fill="#fff" stroke="#231815" stroke-width="3.0" stroke-linecap="round" stroke-linejoin="round"/>
<path d="M898.77,642.77 L899.43,652.43" fill="none" stroke="#231815" stroke-width="1.0" stroke-linecap="round" stroke-linejoin="round"/>
<path d="M881.23,642.77 L880.57,652.43" fill="none" stroke="#231815" stroke-width="1.0" stroke-linecap="round" stroke-linejoin="round"/>
<path d="M872.46,634.00 L871.14,643.00" fill="none" stroke="#231815" stroke-width="1.0" stroke-linecap="round" stroke-linejoin="round"/>
<path d="M907.54,634.00 L908.86,643.00" fill="none" stroke="#231815" stroke-width="1.0" stroke-linecap="round" stroke-linejoin="round"/>
<path d="M898.77,642.77 L881.23,642.77 L872.46,634.00 L881.23,625.23 L898.77,625.23 L907.54,634.00Z" fill="none" stroke="#231815" stroke-width="1.0" stroke-linecap="round" stroke-linejoin="round"/>
<path d="M903.34,641.70 L902.12,642.34 L900.82,642.92 L899.43,643.43 L897.97,643.87 L896.45,644.23 L894.88,644.52 L893.28,644.72 L891.64,644.85 L890.00,644.89 L888.36,644.85 L886.72,644.72 L885.12,644.52 L883.55,644.23 L882.03,643.87 L880.57,643.43 L879.18,642.92 L877.88,642.34 L876.66,641.70 L875.55,641.00 L874.55,640.25 L873.67,639.44 L872.91,638.60 L872.28,637.72 L871.78,636.82 L871.43,635.89 L871.21,634.95 L871.14,634.00 L871.21,633.05 L871.43,632.11 L871.78,631.18 L872.28,630.28 L872.91,629.40 L873.67,628.56 L874.55,627.75 L875.55,627.00 L876.66,626.30 L877.88,625.66 L879.18,625.08 L880.57,624.57 L882.03,624.13 L883.55,623.77 L885.12,623.48 L886.72,623.28 L888.36,623.15 L890.00,623.11 L891.64,623.15 L893.28,623.28 L894.88,623.48 L896.45,623.77 L897.97,624.13 L899.43,624.57 L900.82,625.08 L902.12,625.66 L903.34,626.30 L904.45,627.00 L905.45,627.75 L906.33,628.56 L907.09,629.40 L907.72,630.28 L908.22,631.18 L908.57,632.11 L908.79,633.05 L908.86,634.00 L908.79,634.95 L908.57,635.89 L908.22,636.82 L907.72,637.72 L907.09,638.60 L906.33,639.44 L905.45,640.25 L904.45,641.00 L903.34,641.70Z" fill="none" stroke="#231815" stroke-width="1.3" stroke-linecap="round" stroke-linejoin="round"/>
<path d="M868.34,708.55 L868.45,707.33 L868.76,706.12 L869.27,704.94 L869.99,703.79 L870.89,702.68 L871.98,701.64 L873.24,700.65 L874.66,699.75 L876.23,698.93 L877.92,698.20 L879.74,697.57 L881.65,697.05 L883.64,696.64 L885.70,696.34 L887.79,696.16 L889.90,696.11 L892.01,696.16 L894.11,696.34 L896.16,696.64 L898.15,697.05 L900.06,697.57 L901.88,698.20 L903.58,698.93 L905.14,699.75 L906.56,700.65 L907.82,701.64 L908.91,702.68 L909.82,703.79 L910.53,704.94 L911.04,706.12 L911.35,707.33 L911.46,708.55 L911.46,712.05 L911.35,713.27 L911.04,714.48 L910.53,715.66 L909.82,716.81 L908.91,717.92 L907.82,718.96 L906.56,719.95 L905.14,720.85 L903.58,721.67 L901.88,722.40 L900.06,723.03 L898.15,723.55 L896.16,723.96 L894.11,724.26 L892.01,724.43 L889.90,724.50 L887.79,724.43 L885.70,724.26 L883.64,723.96 L881.65,723.55 L879.74,723.03 L877.92,722.40 L876.23,721.67 L874.66,720.85 L873.24,719.95 L871.98,718.96 L870.89,717.92 L869.99,716.81 L869.27,715.66 L868.76,714.48 L868.45,713.27 L868.34,712.05Z" fill="#fff" stroke="#231815" stroke-width="3.2" stroke-linecap="round" stroke-linejoin="round"/>
<path d="M897.35,712.85 L896.58,713.25 L895.75,713.61 L894.87,713.91 L893.93,714.17 L892.96,714.37 L891.95,714.51 L890.93,714.60 L889.90,714.63 L888.87,714.60 L887.85,714.51 L886.84,714.37 L885.87,714.17 L884.93,713.91 L884.05,713.61 L883.22,713.25 L882.45,712.85 L881.76,712.41 L881.14,711.93 L880.61,711.42 L880.17,710.88 L879.82,710.32 L879.57,709.74 L879.42,709.15 L879.37,708.55 L879.42,707.95 L879.57,707.36 L879.82,706.78 L880.17,706.22 L880.61,705.68 L881.14,705.17 L881.76,704.69 L882.45,704.25 L883.22,703.85 L884.05,703.49 L884.93,703.19 L885.87,702.93 L886.84,702.73 L887.85,702.59 L888.87,702.50 L889.90,702.47 L890.93,702.50 L891.95,702.59 L892.96,702.73 L893.93,702.93 L894.87,703.19 L895.75,703.49 L896.58,703.85 L897.35,704.25 L898.04,704.69 L898.66,705.17 L899.19,705.68 L899.63,706.22 L899.98,706.78 L900.23,707.36 L900.38,707.95 L900.43,708.55 L900.38,709.15 L900.23,709.74 L899.98,710.32 L899.63,710.88 L899.19,711.42 L898.66,711.93 L898.04,712.41 L897.35,712.85Z" fill="#fff" stroke="#231815" stroke-width="3.8" stroke-linecap="round" stroke-linejoin="round"/>
<path d="M942.76,593.65 L942.83,591.88 L943.05,590.05 L943.41,588.16 L943.92,586.25 L944.56,584.31 L945.33,582.39 L946.22,580.49 L947.22,578.63 L948.33,576.83 L949.53,575.11 L950.82,573.48 L952.17,571.96 L953.58,570.56 L955.03,569.30 L956.51,568.20 L958.00,567.25 L959.50,566.47 L960.98,565.87 L962.42,565.45 L963.83,565.22 L965.19,565.18 L966.47,565.33 L967.67,565.66 L968.78,566.18 L971.38,567.68 L972.38,568.38 L973.27,569.25 L974.04,570.29 L974.68,571.49 L975.18,572.82 L975.55,574.28 L975.77,575.87 L975.84,577.55 L975.77,579.32 L975.55,581.15 L975.18,583.04 L974.68,584.96 L974.04,586.89 L973.27,588.81 L972.38,590.71 L971.38,592.57 L970.27,594.37 L969.07,596.10 L967.78,597.72 L966.43,599.24 L965.02,600.64 L963.57,601.89 L962.09,603.00 L960.60,603.95 L959.11,604.73 L957.62,605.33 L956.17,605.75 L954.77,605.98 L953.41,606.02 L952.13,605.87 L950.93,605.54 L949.82,605.02 L947.22,603.52 L946.22,602.82 L945.33,601.95 L944.56,600.91 L943.92,599.72 L943.41,598.38 L943.05,596.91 L942.83,595.33Z" fill="#fff" stroke="#231815" stroke-width="3.3" stroke-linecap="round" stroke-linejoin="round"/>
<path d="M953.41,590.50 L953.45,589.67 L953.55,588.80 L953.72,587.91 L953.96,587.01 L954.26,586.10 L954.62,585.19 L955.04,584.29 L955.52,583.42 L956.04,582.57 L956.61,581.75 L957.21,580.99 L957.85,580.27 L958.51,579.61 L959.20,579.02 L959.89,578.50 L960.60,578.05 L961.30,577.68 L962.00,577.40 L962.69,577.20 L963.35,577.09 L963.99,577.07 L964.59,577.14 L965.16,577.30 L965.68,577.55 L966.16,577.88 L966.58,578.29 L966.94,578.78 L967.24,579.34 L967.48,579.97 L967.65,580.66 L967.75,581.41 L967.79,582.20 L967.75,583.03 L967.65,583.90 L967.48,584.79 L967.24,585.69 L966.94,586.60 L966.58,587.51 L966.16,588.41 L965.68,589.28 L965.16,590.13 L964.59,590.95 L963.99,591.71 L963.35,592.43 L962.69,593.09 L962.00,593.68 L961.30,594.20 L960.60,594.65 L959.89,595.02 L959.20,595.30 L958.51,595.50 L957.85,595.61 L957.21,595.63 L956.61,595.56 L956.04,595.40 L955.52,595.15 L955.04,594.82 L954.62,594.41 L954.26,593.92 L953.96,593.36 L953.72,592.73 L953.55,592.04 L953.45,591.29 L953.41,590.50Z" fill="#fff" stroke="#231815" stroke-width="3.8" stroke-linecap="round" stroke-linejoin="round"/>
<path d="M977.86,608.57 L986.56,592.40 L999.26,588.18 L1010.55,595.74 L1011.28,596.23 L1011.94,596.84 L1012.52,597.55 L1013.01,598.37 L1013.43,599.28 L1013.75,600.28 L1013.98,601.36 L1014.12,602.51 L1014.17,603.73 L1014.12,604.99 L1013.98,606.31 L1013.75,607.66 L1013.43,609.03 L1013.01,610.41 L1012.52,611.80 L1011.94,613.19 L1011.28,614.55 L1010.55,615.89 L1009.76,617.19 L1008.91,618.44 L1008.00,619.63 L1007.04,620.75 L1006.05,621.80 L1005.02,622.77 L1003.97,623.65 L1002.90,624.42 L1001.83,625.10 L1000.75,625.67 L999.69,626.12 L998.63,626.46 L997.61,626.68 L996.61,626.78 L995.66,626.75 L994.75,626.61 L993.90,626.35 L993.10,625.96 L981.88,620.52Z" fill="#fff" stroke="#231815" stroke-width="3.2" stroke-linecap="round" stroke-linejoin="round"/>
<path d="M990.39,614.65 L977.86,608.57" fill="none" stroke="#231815" stroke-width="1.0" stroke-linecap="round" stroke-linejoin="round"/>
<path d="M998.22,600.10 L986.56,592.40" fill="none" stroke="#231815" stroke-width="1.0" stroke-linecap="round" stroke-linejoin="round"/>
<path d="M1009.65,596.30 L999.26,588.18" fill="none" stroke="#231815" stroke-width="1.0" stroke-linecap="round" stroke-linejoin="round"/>
<path d="M994.01,625.40 L981.88,620.52" fill="none" stroke="#231815" stroke-width="1.0" stroke-linecap="round" stroke-linejoin="round"/>
<path d="M990.39,614.65 L998.22,600.10 L1009.65,596.30 L1013.27,607.05 L1005.44,621.60 L994.01,625.40Z" fill="none" stroke="#231815" stroke-width="1.0" stroke-linecap="round" stroke-linejoin="round"/>
<path d="M989.49,617.98 L989.54,616.71 L989.68,615.39 L989.91,614.04 L990.23,612.67 L990.64,611.29 L991.14,609.90 L991.72,608.51 L992.38,607.15 L993.10,605.81 L993.90,604.51 L994.75,603.26 L995.66,602.07 L996.61,600.95 L997.61,599.90 L998.64,598.93 L999.69,598.05 L1000.75,597.28 L1001.83,596.60 L1002.90,596.03 L1003.97,595.58 L1005.02,595.24 L1006.05,595.02 L1007.04,594.92 L1008.00,594.95 L1008.91,595.09 L1009.76,595.35 L1010.56,595.74 L1011.28,596.23 L1011.94,596.84 L1012.52,597.55 L1013.01,598.37 L1013.43,599.28 L1013.75,600.28 L1013.98,601.36 L1014.12,602.51 L1014.17,603.73 L1014.12,604.99 L1013.98,606.31 L1013.75,607.66 L1013.43,609.03 L1013.01,610.41 L1012.52,611.80 L1011.94,613.19 L1011.28,614.55 L1010.56,615.89 L1009.76,617.19 L1008.91,618.44 L1008.00,619.63 L1007.04,620.75 L1006.05,621.80 L1005.02,622.77 L1003.97,623.65 L1002.90,624.42 L1001.83,625.10 L1000.75,625.67 L999.69,626.12 L998.64,626.46 L997.61,626.68 L996.61,626.78 L995.66,626.75 L994.75,626.61 L993.90,626.35 L993.10,625.96 L992.38,625.47 L991.72,624.86 L991.14,624.15 L990.64,623.33 L990.23,622.42 L989.91,621.42 L989.68,620.34 L989.54,619.19 L989.49,617.98Z" fill="none" stroke="#231815" stroke-width="1.3" stroke-linecap="round" stroke-linejoin="round"/>
<path d="M995.77,614.35 L995.80,613.65 L995.88,612.92 L996.03,612.17 L996.23,611.40 L996.48,610.64 L996.79,609.87 L997.14,609.11 L997.54,608.38 L997.98,607.66 L998.46,606.97 L998.97,606.33 L999.51,605.72 L1000.07,605.17 L1000.65,604.67 L1001.23,604.23 L1001.83,603.85 L1002.42,603.54 L1003.01,603.30 L1003.59,603.14 L1004.15,603.04 L1004.69,603.03 L1005.20,603.09 L1005.67,603.22 L1006.12,603.43 L1006.52,603.70 L1006.87,604.05 L1007.18,604.46 L1007.43,604.94 L1007.63,605.47 L1007.77,606.05 L1007.86,606.68 L1007.89,607.35 L1007.86,608.05 L1007.77,608.78 L1007.63,609.53 L1007.43,610.30 L1007.18,611.06 L1006.87,611.83 L1006.52,612.59 L1006.12,613.32 L1005.67,614.04 L1005.20,614.73 L1004.69,615.37 L1004.15,615.98 L1003.59,616.53 L1003.01,617.03 L1002.42,617.47 L1001.83,617.85 L1001.23,618.16 L1000.65,618.40 L1000.07,618.56 L999.51,618.66 L998.97,618.67 L998.46,618.61 L997.98,618.48 L997.54,618.27 L997.14,618.00 L996.79,617.65 L996.48,617.24 L996.23,616.76 L996.03,616.23 L995.88,615.65 L995.80,615.02 L995.77,614.35Z" fill="#5a504c" stroke="#231815" stroke-width="2.6" stroke-linecap="round" stroke-linejoin="round"/>
<path d="M996.77,612.27 L996.79,611.83 L996.84,611.38 L996.93,610.92 L997.06,610.44 L997.22,609.97 L997.41,609.49 L997.62,609.02 L997.87,608.57 L998.15,608.12 L998.44,607.70 L998.76,607.30 L999.09,606.92 L999.44,606.58 L999.80,606.27 L1000.16,605.99 L1000.53,605.76 L1000.90,605.57 L1001.26,605.42 L1001.62,605.32 L1001.97,605.26 L1002.30,605.25 L1002.62,605.29 L1002.91,605.37 L1003.19,605.50 L1003.44,605.67 L1003.66,605.88 L1003.84,606.14 L1004.00,606.43 L1004.13,606.76 L1004.22,607.13 L1004.27,607.52 L1004.29,607.93 L1004.27,608.37 L1004.22,608.82 L1004.13,609.28 L1004.00,609.76 L1003.84,610.23 L1003.66,610.71 L1003.44,611.18 L1003.19,611.63 L1002.91,612.08 L1002.62,612.50 L1002.30,612.90 L1001.97,613.28 L1001.62,613.62 L1001.26,613.93 L1000.90,614.21 L1000.53,614.44 L1000.16,614.63 L999.80,614.78 L999.44,614.88 L999.09,614.94 L998.76,614.95 L998.44,614.91 L998.15,614.83 L997.87,614.70 L997.62,614.53 L997.41,614.32 L997.22,614.06 L997.06,613.77 L996.93,613.44 L996.84,613.07 L996.79,612.68 L996.77,612.27Z" fill="none" stroke="#fff" stroke-width="0.9" stroke-linecap="round" stroke-linejoin="round" stroke-dasharray="1.5,1.2"/>
<path d="M997.11,610.58 L997.12,610.33 L997.15,610.07 L997.20,609.81 L997.27,609.54 L997.36,609.28 L997.47,609.01 L997.59,608.74 L997.73,608.48 L997.89,608.23 L998.05,607.99 L998.23,607.77 L998.42,607.56 L998.62,607.36 L998.82,607.19 L999.02,607.03 L999.23,606.90 L999.44,606.79 L999.65,606.71 L999.85,606.65 L1000.04,606.62 L1000.23,606.61 L1000.41,606.63 L1000.58,606.68 L1000.73,606.75 L1000.87,606.85 L1001.00,606.97 L1001.10,607.11 L1001.19,607.28 L1001.26,607.47 L1001.31,607.67 L1001.34,607.89 L1001.35,608.12 L1001.34,608.37 L1001.31,608.63 L1001.26,608.89 L1001.19,609.16 L1001.10,609.42 L1001.00,609.69 L1000.87,609.96 L1000.73,610.22 L1000.58,610.47 L1000.41,610.71 L1000.23,610.93 L1000.04,611.14 L999.85,611.34 L999.65,611.51 L999.44,611.67 L999.23,611.80 L999.02,611.91 L998.82,611.99 L998.62,612.05 L998.42,612.08 L998.23,612.09 L998.05,612.07 L997.89,612.02 L997.73,611.95 L997.59,611.85 L997.47,611.73 L997.36,611.59 L997.27,611.42 L997.20,611.23 L997.15,611.03 L997.12,610.81 L997.11,610.58Z" fill="none" stroke="#fff" stroke-width="0.9" stroke-linecap="round" stroke-linejoin="round" stroke-dasharray="1.5,1.2"/>
<path d="M1052.56,627.65 L1052.63,625.88 L1052.85,624.05 L1053.21,622.16 L1053.72,620.25 L1054.36,618.31 L1055.13,616.39 L1056.02,614.49 L1057.02,612.63 L1058.13,610.83 L1059.33,609.11 L1060.62,607.48 L1061.97,605.96 L1063.38,604.56 L1064.83,603.30 L1066.31,602.20 L1067.80,601.25 L1069.30,600.47 L1070.78,599.87 L1072.22,599.45 L1073.63,599.22 L1074.99,599.18 L1076.27,599.33 L1077.47,599.66 L1078.58,600.18 L1081.18,601.68 L1082.18,602.38 L1083.07,603.25 L1083.84,604.29 L1084.48,605.49 L1084.98,606.82 L1085.35,608.28 L1085.57,609.87 L1085.64,611.55 L1085.57,613.32 L1085.35,615.15 L1084.98,617.04 L1084.48,618.96 L1083.84,620.89 L1083.07,622.81 L1082.18,624.71 L1081.18,626.57 L1080.07,628.37 L1078.87,630.10 L1077.58,631.72 L1076.23,633.24 L1074.82,634.64 L1073.37,635.89 L1071.89,637.00 L1070.40,637.95 L1068.90,638.73 L1067.42,639.33 L1065.97,639.75 L1064.57,639.98 L1063.21,640.02 L1061.93,639.87 L1060.73,639.54 L1059.62,639.02 L1057.02,637.52 L1056.02,636.82 L1055.13,635.95 L1054.36,634.91 L1053.72,633.72 L1053.21,632.38 L1052.85,630.91 L1052.63,629.33Z" fill="#fff" stroke="#231815" stroke-width="3.3" stroke-linecap="round" stroke-linejoin="round"/>
<path d="M1063.21,624.50 L1063.25,623.67 L1063.35,622.80 L1063.52,621.91 L1063.76,621.01 L1064.06,620.10 L1064.42,619.19 L1064.84,618.29 L1065.32,617.42 L1065.84,616.57 L1066.41,615.75 L1067.01,614.99 L1067.65,614.27 L1068.31,613.61 L1069.00,613.02 L1069.69,612.50 L1070.40,612.05 L1071.10,611.68 L1071.80,611.40 L1072.49,611.20 L1073.15,611.09 L1073.79,611.07 L1074.39,611.14 L1074.96,611.30 L1075.48,611.55 L1075.96,611.88 L1076.38,612.29 L1076.74,612.78 L1077.04,613.34 L1077.28,613.97 L1077.45,614.66 L1077.55,615.41 L1077.59,616.20 L1077.55,617.03 L1077.45,617.90 L1077.28,618.79 L1077.04,619.69 L1076.74,620.60 L1076.38,621.51 L1075.96,622.41 L1075.48,623.28 L1074.96,624.13 L1074.39,624.95 L1073.79,625.71 L1073.15,626.43 L1072.49,627.09 L1071.80,627.68 L1071.10,628.20 L1070.40,628.65 L1069.69,629.02 L1069.00,629.30 L1068.31,629.50 L1067.65,629.61 L1067.01,629.63 L1066.41,629.56 L1065.84,629.40 L1065.32,629.15 L1064.84,628.82 L1064.42,628.41 L1064.06,627.92 L1063.76,627.36 L1063.52,626.73 L1063.35,626.04 L1063.25,625.29 L1063.21,624.50Z" fill="#fff" stroke="#231815" stroke-width="3.8" stroke-linecap="round" stroke-linejoin="round"/>
<path d="M1079.50,626.00 L1092.50,633.50" fill="none" stroke="#231815" stroke-width="5.0" stroke-linecap="butt" stroke-linejoin="round"/>
<path d="M1081.50,628.30 L1092.00,634.30" fill="none" stroke="#fff" stroke-width="0.7" stroke-linecap="butt" stroke-linejoin="round"/>
<path d="M1089.16,641.17 L1097.86,625.00 L1110.56,620.78 L1121.86,628.34 L1122.58,628.83 L1123.24,629.44 L1123.82,630.15 L1124.31,630.97 L1124.73,631.88 L1125.05,632.88 L1125.28,633.96 L1125.42,635.11 L1125.47,636.33 L1125.42,637.59 L1125.28,638.91 L1125.05,640.26 L1124.73,641.63 L1124.31,643.01 L1123.82,644.40 L1123.24,645.79 L1122.58,647.15 L1121.86,648.49 L1121.06,649.79 L1120.21,651.04 L1119.30,652.23 L1118.35,653.35 L1117.35,654.40 L1116.32,655.37 L1115.27,656.25 L1114.20,657.02 L1113.13,657.70 L1112.05,658.27 L1110.99,658.72 L1109.93,659.06 L1108.91,659.28 L1107.91,659.38 L1106.96,659.35 L1106.05,659.21 L1105.20,658.95 L1104.40,658.56 L1093.18,653.12Z" fill="#fff" stroke="#231815" stroke-width="3.2" stroke-linecap="round" stroke-linejoin="round"/>
<path d="M1101.69,647.25 L1089.16,641.17" fill="none" stroke="#231815" stroke-width="1.0" stroke-linecap="round" stroke-linejoin="round"/>
<path d="M1109.52,632.70 L1097.86,625.00" fill="none" stroke="#231815" stroke-width="1.0" stroke-linecap="round" stroke-linejoin="round"/>
<path d="M1120.95,628.90 L1110.56,620.78" fill="none" stroke="#231815" stroke-width="1.0" stroke-linecap="round" stroke-linejoin="round"/>
<path d="M1105.31,658.00 L1093.18,653.12" fill="none" stroke="#231815" stroke-width="1.0" stroke-linecap="round" stroke-linejoin="round"/>
<path d="M1101.69,647.25 L1109.52,632.70 L1120.95,628.90 L1124.57,639.65 L1116.74,654.20 L1105.31,658.00Z" fill="none" stroke="#231815" stroke-width="1.0" stroke-linecap="round" stroke-linejoin="round"/>
<path d="M1100.79,650.58 L1100.84,649.31 L1100.98,647.99 L1101.21,646.64 L1101.53,645.27 L1101.94,643.89 L1102.44,642.50 L1103.02,641.11 L1103.68,639.75 L1104.40,638.41 L1105.20,637.11 L1106.05,635.86 L1106.96,634.67 L1107.91,633.55 L1108.91,632.50 L1109.94,631.53 L1110.99,630.65 L1112.05,629.88 L1113.13,629.20 L1114.20,628.63 L1115.27,628.18 L1116.32,627.84 L1117.35,627.62 L1118.34,627.52 L1119.30,627.55 L1120.21,627.69 L1121.06,627.95 L1121.86,628.34 L1122.58,628.83 L1123.24,629.44 L1123.82,630.15 L1124.31,630.97 L1124.73,631.88 L1125.05,632.88 L1125.28,633.96 L1125.42,635.11 L1125.47,636.33 L1125.42,637.59 L1125.28,638.91 L1125.05,640.26 L1124.73,641.63 L1124.31,643.01 L1123.82,644.40 L1123.24,645.79 L1122.58,647.15 L1121.86,648.49 L1121.06,649.79 L1120.21,651.04 L1119.30,652.23 L1118.34,653.35 L1117.35,654.40 L1116.32,655.37 L1115.27,656.25 L1114.20,657.02 L1113.13,657.70 L1112.05,658.27 L1110.99,658.72 L1109.94,659.06 L1108.91,659.28 L1107.91,659.38 L1106.96,659.35 L1106.05,659.21 L1105.20,658.95 L1104.40,658.56 L1103.68,658.07 L1103.02,657.46 L1102.44,656.75 L1101.94,655.93 L1101.53,655.02 L1101.21,654.02 L1100.98,652.94 L1100.84,651.79 L1100.79,650.58Z" fill="none" stroke="#231815" stroke-width="1.3" stroke-linecap="round" stroke-linejoin="round"/>
<path d="M1107.07,646.95 L1107.10,646.25 L1107.18,645.52 L1107.33,644.77 L1107.53,644.00 L1107.78,643.24 L1108.09,642.47 L1108.44,641.71 L1108.84,640.98 L1109.28,640.26 L1109.76,639.57 L1110.27,638.93 L1110.81,638.32 L1111.37,637.77 L1111.95,637.27 L1112.53,636.83 L1113.13,636.45 L1113.72,636.14 L1114.31,635.90 L1114.89,635.74 L1115.45,635.64 L1115.99,635.63 L1116.50,635.69 L1116.97,635.82 L1117.42,636.03 L1117.82,636.30 L1118.17,636.65 L1118.48,637.06 L1118.73,637.54 L1118.93,638.07 L1119.07,638.65 L1119.16,639.28 L1119.19,639.95 L1119.16,640.65 L1119.07,641.38 L1118.93,642.13 L1118.73,642.90 L1118.48,643.66 L1118.17,644.43 L1117.82,645.19 L1117.42,645.92 L1116.97,646.64 L1116.50,647.33 L1115.99,647.97 L1115.45,648.58 L1114.89,649.13 L1114.31,649.63 L1113.72,650.07 L1113.13,650.45 L1112.53,650.76 L1111.95,651.00 L1111.37,651.16 L1110.81,651.26 L1110.27,651.27 L1109.76,651.21 L1109.28,651.08 L1108.84,650.87 L1108.44,650.60 L1108.09,650.25 L1107.78,649.84 L1107.53,649.36 L1107.33,648.83 L1107.18,648.25 L1107.10,647.62 L1107.07,646.95Z" fill="#5a504c" stroke="#231815" stroke-width="2.6" stroke-linecap="round" stroke-linejoin="round"/>
<path d="M1108.07,644.87 L1108.09,644.43 L1108.14,643.98 L1108.23,643.52 L1108.36,643.04 L1108.52,642.57 L1108.71,642.09 L1108.92,641.62 L1109.17,641.17 L1109.45,640.72 L1109.74,640.30 L1110.06,639.90 L1110.39,639.52 L1110.74,639.18 L1111.10,638.87 L1111.46,638.59 L1111.83,638.36 L1112.20,638.17 L1112.56,638.02 L1112.92,637.92 L1113.27,637.86 L1113.60,637.85 L1113.92,637.89 L1114.21,637.97 L1114.49,638.10 L1114.74,638.27 L1114.96,638.48 L1115.14,638.74 L1115.30,639.03 L1115.43,639.36 L1115.52,639.73 L1115.57,640.12 L1115.59,640.53 L1115.57,640.97 L1115.52,641.42 L1115.43,641.88 L1115.30,642.36 L1115.14,642.83 L1114.96,643.31 L1114.74,643.78 L1114.49,644.23 L1114.21,644.68 L1113.92,645.10 L1113.60,645.50 L1113.27,645.88 L1112.92,646.22 L1112.56,646.53 L1112.20,646.81 L1111.83,647.04 L1111.46,647.23 L1111.10,647.38 L1110.74,647.48 L1110.39,647.54 L1110.06,647.55 L1109.74,647.51 L1109.45,647.43 L1109.17,647.30 L1108.92,647.13 L1108.71,646.92 L1108.52,646.66 L1108.36,646.37 L1108.23,646.04 L1108.14,645.67 L1108.09,645.28 L1108.07,644.87Z" fill="none" stroke="#fff" stroke-width="0.9" stroke-linecap="round" stroke-linejoin="round" stroke-dasharray="1.5,1.2"/>
<path d="M1108.41,643.18 L1108.42,642.93 L1108.45,642.67 L1108.50,642.41 L1108.57,642.14 L1108.66,641.88 L1108.77,641.61 L1108.89,641.34 L1109.03,641.08 L1109.19,640.83 L1109.35,640.59 L1109.53,640.37 L1109.72,640.16 L1109.92,639.96 L1110.12,639.79 L1110.32,639.63 L1110.53,639.50 L1110.74,639.39 L1110.95,639.31 L1111.15,639.25 L1111.34,639.22 L1111.53,639.21 L1111.71,639.23 L1111.88,639.28 L1112.03,639.35 L1112.17,639.45 L1112.30,639.57 L1112.40,639.71 L1112.49,639.88 L1112.56,640.07 L1112.61,640.27 L1112.64,640.49 L1112.65,640.73 L1112.64,640.97 L1112.61,641.23 L1112.56,641.49 L1112.49,641.76 L1112.40,642.02 L1112.30,642.29 L1112.17,642.56 L1112.03,642.82 L1111.88,643.07 L1111.71,643.31 L1111.53,643.53 L1111.34,643.74 L1111.15,643.94 L1110.95,644.11 L1110.74,644.27 L1110.53,644.40 L1110.32,644.51 L1110.12,644.59 L1109.92,644.65 L1109.72,644.68 L1109.53,644.69 L1109.35,644.67 L1109.19,644.62 L1109.03,644.55 L1108.89,644.45 L1108.77,644.33 L1108.66,644.19 L1108.57,644.02 L1108.50,643.83 L1108.45,643.63 L1108.42,643.41 L1108.41,643.18Z" fill="none" stroke="#fff" stroke-width="0.9" stroke-linecap="round" stroke-linejoin="round" stroke-dasharray="1.5,1.2"/>
<path d="M925.06,818.15 L925.13,816.38 L925.35,814.55 L925.72,812.66 L926.22,810.75 L926.86,808.81 L927.63,806.89 L928.52,804.99 L929.52,803.13 L930.63,801.33 L931.83,799.61 L933.12,797.98 L934.47,796.46 L935.88,795.06 L937.33,793.80 L938.81,792.70 L940.30,791.75 L941.79,790.97 L943.27,790.37 L944.73,789.95 L946.13,789.72 L947.49,789.68 L948.77,789.83 L949.97,790.16 L951.08,790.68 L953.68,792.18 L954.68,792.88 L955.57,793.75 L956.34,794.79 L956.98,795.99 L957.49,797.32 L957.85,798.78 L958.07,800.37 L958.14,802.05 L958.07,803.82 L957.85,805.65 L957.49,807.54 L956.98,809.46 L956.34,811.39 L955.57,813.31 L954.68,815.21 L953.68,817.07 L952.57,818.87 L951.37,820.60 L950.08,822.22 L948.73,823.74 L947.32,825.14 L945.87,826.39 L944.39,827.50 L942.90,828.45 L941.40,829.23 L939.92,829.83 L938.48,830.25 L937.07,830.48 L935.71,830.52 L934.43,830.37 L933.23,830.04 L932.12,829.52 L929.52,828.02 L928.52,827.32 L927.63,826.45 L926.86,825.41 L926.22,824.22 L925.72,822.88 L925.35,821.41 L925.13,819.83Z" fill="#fff" stroke="#231815" stroke-width="3.3" stroke-linecap="round" stroke-linejoin="round"/>
<path d="M935.71,815.00 L935.75,814.17 L935.85,813.30 L936.02,812.41 L936.26,811.51 L936.56,810.60 L936.92,809.69 L937.34,808.79 L937.82,807.92 L938.34,807.07 L938.91,806.25 L939.51,805.49 L940.15,804.77 L940.81,804.11 L941.50,803.52 L942.19,803.00 L942.90,802.55 L943.60,802.18 L944.30,801.90 L944.99,801.70 L945.65,801.59 L946.29,801.57 L946.89,801.64 L947.46,801.80 L947.98,802.05 L948.46,802.38 L948.88,802.79 L949.24,803.28 L949.54,803.84 L949.78,804.47 L949.95,805.16 L950.05,805.91 L950.09,806.70 L950.05,807.53 L949.95,808.40 L949.78,809.29 L949.54,810.19 L949.24,811.10 L948.88,812.01 L948.46,812.91 L947.98,813.78 L947.46,814.63 L946.89,815.45 L946.29,816.21 L945.65,816.93 L944.99,817.59 L944.30,818.18 L943.60,818.70 L942.90,819.15 L942.19,819.52 L941.50,819.80 L940.81,820.00 L940.15,820.11 L939.51,820.13 L938.91,820.06 L938.34,819.90 L937.82,819.65 L937.34,819.32 L936.92,818.91 L936.56,818.42 L936.26,817.86 L936.02,817.23 L935.85,816.54 L935.75,815.79 L935.71,815.00Z" fill="#fff" stroke="#231815" stroke-width="3.8" stroke-linecap="round" stroke-linejoin="round"/>
<path d="M959.76,831.97 L968.46,815.80 L981.16,811.58 L992.46,819.14 L993.18,819.63 L993.84,820.24 L994.42,820.96 L994.91,821.77 L995.33,822.68 L995.65,823.68 L995.88,824.76 L996.02,825.91 L996.07,827.12 L996.02,828.39 L995.88,829.71 L995.65,831.06 L995.33,832.43 L994.91,833.82 L994.42,835.21 L993.84,836.59 L993.18,837.95 L992.46,839.29 L991.66,840.59 L990.81,841.84 L989.90,843.03 L988.95,844.15 L987.95,845.20 L986.92,846.17 L985.87,847.05 L984.80,847.83 L983.73,848.50 L982.65,849.07 L981.59,849.52 L980.53,849.86 L979.51,850.08 L978.51,850.18 L977.56,850.15 L976.65,850.01 L975.80,849.75 L975.00,849.36 L963.78,843.92Z" fill="#fff" stroke="#231815" stroke-width="3.2" stroke-linecap="round" stroke-linejoin="round"/>
<path d="M972.29,838.05 L959.76,831.97" fill="none" stroke="#231815" stroke-width="1.0" stroke-linecap="round" stroke-linejoin="round"/>
<path d="M980.12,823.50 L968.46,815.80" fill="none" stroke="#231815" stroke-width="1.0" stroke-linecap="round" stroke-linejoin="round"/>
<path d="M991.55,819.70 L981.16,811.58" fill="none" stroke="#231815" stroke-width="1.0" stroke-linecap="round" stroke-linejoin="round"/>
<path d="M975.91,848.80 L963.78,843.92" fill="none" stroke="#231815" stroke-width="1.0" stroke-linecap="round" stroke-linejoin="round"/>
<path d="M972.29,838.05 L980.12,823.50 L991.55,819.70 L995.17,830.45 L987.34,845.00 L975.91,848.80Z" fill="none" stroke="#231815" stroke-width="1.0" stroke-linecap="round" stroke-linejoin="round"/>
<path d="M971.39,841.38 L971.44,840.11 L971.58,838.79 L971.81,837.44 L972.13,836.07 L972.54,834.69 L973.04,833.30 L973.62,831.91 L974.28,830.55 L975.00,829.21 L975.80,827.91 L976.65,826.66 L977.56,825.47 L978.51,824.35 L979.51,823.30 L980.54,822.33 L981.59,821.45 L982.65,820.68 L983.73,820.00 L984.80,819.43 L985.87,818.98 L986.92,818.64 L987.95,818.42 L988.94,818.32 L989.90,818.35 L990.81,818.49 L991.66,818.75 L992.46,819.14 L993.18,819.63 L993.84,820.24 L994.42,820.95 L994.91,821.77 L995.33,822.68 L995.65,823.68 L995.88,824.76 L996.02,825.91 L996.07,827.12 L996.02,828.39 L995.88,829.71 L995.65,831.06 L995.33,832.43 L994.91,833.81 L994.42,835.20 L993.84,836.59 L993.18,837.95 L992.46,839.29 L991.66,840.59 L990.81,841.84 L989.90,843.03 L988.94,844.15 L987.95,845.20 L986.92,846.17 L985.87,847.05 L984.80,847.82 L983.73,848.50 L982.65,849.07 L981.59,849.52 L980.54,849.86 L979.51,850.08 L978.51,850.18 L977.56,850.15 L976.65,850.01 L975.80,849.75 L975.00,849.36 L974.28,848.87 L973.62,848.26 L973.04,847.55 L972.54,846.73 L972.13,845.82 L971.81,844.82 L971.58,843.74 L971.44,842.59 L971.39,841.38Z" fill="none" stroke="#231815" stroke-width="1.3" stroke-linecap="round" stroke-linejoin="round"/>
<path d="M977.67,837.75 L977.70,837.05 L977.78,836.32 L977.93,835.57 L978.13,834.80 L978.38,834.04 L978.69,833.27 L979.04,832.51 L979.44,831.78 L979.88,831.06 L980.36,830.37 L980.87,829.73 L981.41,829.12 L981.97,828.57 L982.55,828.07 L983.13,827.63 L983.73,827.25 L984.32,826.94 L984.91,826.70 L985.49,826.54 L986.05,826.44 L986.59,826.43 L987.10,826.49 L987.57,826.62 L988.02,826.83 L988.42,827.10 L988.77,827.45 L989.08,827.86 L989.33,828.34 L989.53,828.87 L989.67,829.45 L989.76,830.08 L989.79,830.75 L989.76,831.45 L989.67,832.18 L989.53,832.93 L989.33,833.70 L989.08,834.46 L988.77,835.23 L988.42,835.99 L988.02,836.72 L987.57,837.44 L987.10,838.13 L986.59,838.77 L986.05,839.38 L985.49,839.93 L984.91,840.43 L984.32,840.87 L983.73,841.25 L983.13,841.56 L982.55,841.80 L981.97,841.96 L981.41,842.06 L980.87,842.07 L980.36,842.01 L979.88,841.88 L979.44,841.67 L979.04,841.40 L978.69,841.05 L978.38,840.64 L978.13,840.16 L977.93,839.63 L977.78,839.05 L977.70,838.42 L977.67,837.75Z" fill="#5a504c" stroke="#231815" stroke-width="2.6" stroke-linecap="round" stroke-linejoin="round"/>
<path d="M978.67,835.67 L978.69,835.23 L978.74,834.78 L978.83,834.32 L978.96,833.84 L979.12,833.37 L979.31,832.89 L979.52,832.42 L979.77,831.97 L980.05,831.52 L980.34,831.10 L980.66,830.70 L980.99,830.32 L981.34,829.98 L981.70,829.67 L982.06,829.39 L982.43,829.16 L982.80,828.97 L983.16,828.82 L983.52,828.72 L983.87,828.66 L984.20,828.65 L984.52,828.69 L984.81,828.77 L985.09,828.90 L985.34,829.07 L985.56,829.28 L985.74,829.54 L985.90,829.83 L986.03,830.16 L986.12,830.53 L986.17,830.92 L986.19,831.33 L986.17,831.77 L986.12,832.22 L986.03,832.68 L985.90,833.16 L985.74,833.63 L985.56,834.11 L985.34,834.58 L985.09,835.03 L984.81,835.48 L984.52,835.90 L984.20,836.30 L983.87,836.68 L983.52,837.02 L983.16,837.33 L982.80,837.61 L982.43,837.84 L982.06,838.03 L981.70,838.18 L981.34,838.28 L980.99,838.34 L980.66,838.35 L980.34,838.31 L980.05,838.23 L979.77,838.10 L979.52,837.93 L979.31,837.72 L979.12,837.46 L978.96,837.17 L978.83,836.84 L978.74,836.47 L978.69,836.08 L978.67,835.67Z" fill="none" stroke="#fff" stroke-width="0.9" stroke-linecap="round" stroke-linejoin="round" stroke-dasharray="1.5,1.2"/>
<path d="M979.01,833.98 L979.02,833.73 L979.05,833.47 L979.10,833.21 L979.17,832.94 L979.26,832.68 L979.37,832.41 L979.49,832.14 L979.63,831.88 L979.79,831.63 L979.95,831.39 L980.13,831.17 L980.32,830.96 L980.52,830.76 L980.72,830.59 L980.92,830.43 L981.13,830.30 L981.34,830.19 L981.55,830.11 L981.75,830.05 L981.94,830.02 L982.13,830.01 L982.31,830.03 L982.48,830.08 L982.63,830.15 L982.77,830.25 L982.90,830.37 L983.00,830.51 L983.09,830.68 L983.16,830.87 L983.21,831.07 L983.24,831.29 L983.25,831.52 L983.24,831.77 L983.21,832.03 L983.16,832.29 L983.09,832.56 L983.00,832.82 L982.90,833.09 L982.77,833.36 L982.63,833.62 L982.48,833.87 L982.31,834.11 L982.13,834.33 L981.94,834.54 L981.75,834.74 L981.55,834.91 L981.34,835.07 L981.13,835.20 L980.92,835.31 L980.72,835.39 L980.52,835.45 L980.32,835.48 L980.13,835.49 L979.95,835.47 L979.79,835.42 L979.63,835.35 L979.49,835.25 L979.37,835.13 L979.26,834.99 L979.17,834.82 L979.10,834.63 L979.05,834.43 L979.02,834.21 L979.01,833.98Z" fill="none" stroke="#fff" stroke-width="0.9" stroke-linecap="round" stroke-linejoin="round" stroke-dasharray="1.5,1.2"/>
<path d="M1026.75,795.35 L1036.42,785.67 L1055.78,785.67 L1065.45,795.35 L1064.80,806.03 L1064.59,807.20 L1064.23,808.36 L1063.74,809.48 L1063.11,810.58 L1062.36,811.62 L1061.48,812.62 L1060.48,813.56 L1059.37,814.43 L1058.16,815.23 L1056.87,815.95 L1055.48,816.58 L1054.03,817.13 L1052.52,817.58 L1050.96,817.93 L1049.36,818.19 L1047.74,818.35 L1046.10,818.40 L1044.46,818.35 L1042.84,818.19 L1041.24,817.93 L1039.68,817.58 L1038.17,817.13 L1036.71,816.58 L1035.33,815.95 L1034.04,815.23 L1032.83,814.43 L1031.72,813.56 L1030.72,812.62 L1029.84,811.62 L1029.09,810.58 L1028.46,809.48 L1027.97,808.36 L1027.62,807.20 L1027.40,806.03Z" fill="#fff" stroke="#231815" stroke-width="3.2" stroke-linecap="round" stroke-linejoin="round"/>
<path d="M1055.78,805.03 L1055.78,814.53" fill="none" stroke="#231815" stroke-width="1.0" stroke-linecap="round" stroke-linejoin="round"/>
<path d="M1036.42,805.03 L1036.42,814.53" fill="none" stroke="#231815" stroke-width="1.0" stroke-linecap="round" stroke-linejoin="round"/>
<path d="M1026.75,795.35 L1026.75,804.85" fill="none" stroke="#231815" stroke-width="1.0" stroke-linecap="round" stroke-linejoin="round"/>
<path d="M1065.45,795.35 L1065.45,804.85" fill="none" stroke="#231815" stroke-width="1.0" stroke-linecap="round" stroke-linejoin="round"/>
<path d="M1055.78,805.03 L1036.42,805.03 L1026.75,795.35 L1036.42,785.67 L1055.78,785.67 L1065.45,795.35Z" fill="none" stroke="#231815" stroke-width="1.0" stroke-linecap="round" stroke-linejoin="round"/>
<path d="M1052.16,798.85 L1051.54,799.18 L1050.86,799.47 L1050.14,799.72 L1049.38,799.92 L1048.59,800.09 L1047.77,800.20 L1046.94,800.28 L1046.10,800.30 L1045.26,800.28 L1044.43,800.20 L1043.61,800.09 L1042.82,799.92 L1042.06,799.72 L1041.34,799.47 L1040.66,799.18 L1040.04,798.85 L1039.47,798.49 L1038.97,798.10 L1038.54,797.68 L1038.18,797.24 L1037.90,796.79 L1037.69,796.32 L1037.57,795.84 L1037.53,795.35 L1037.57,794.86 L1037.69,794.38 L1037.90,793.91 L1038.18,793.46 L1038.54,793.02 L1038.97,792.60 L1039.47,792.21 L1040.04,791.85 L1040.66,791.52 L1041.34,791.23 L1042.06,790.98 L1042.82,790.78 L1043.61,790.61 L1044.43,790.50 L1045.26,790.42 L1046.10,790.40 L1046.94,790.42 L1047.77,790.50 L1048.59,790.61 L1049.38,790.78 L1050.14,790.98 L1050.86,791.23 L1051.54,791.52 L1052.16,791.85 L1052.73,792.21 L1053.23,792.60 L1053.66,793.02 L1054.02,793.46 L1054.30,793.91 L1054.51,794.38 L1054.63,794.86 L1054.67,795.35 L1054.63,795.84 L1054.51,796.32 L1054.30,796.79 L1054.02,797.24 L1053.66,797.68 L1053.23,798.10 L1052.73,798.49 L1052.16,798.85Z" fill="#5a504c" stroke="#231815" stroke-width="2.6" stroke-linecap="round" stroke-linejoin="round"/>
<path d="M1049.86,799.02 L1049.47,799.22 L1049.05,799.40 L1048.61,799.56 L1048.13,799.69 L1047.64,799.79 L1047.14,799.86 L1046.62,799.90 L1046.10,799.92 L1045.58,799.90 L1045.06,799.86 L1044.56,799.79 L1044.07,799.69 L1043.59,799.56 L1043.15,799.40 L1042.73,799.22 L1042.34,799.02 L1041.99,798.80 L1041.68,798.55 L1041.41,798.30 L1041.19,798.02 L1041.01,797.74 L1040.89,797.45 L1040.81,797.15 L1040.78,796.85 L1040.81,796.55 L1040.89,796.25 L1041.01,795.96 L1041.19,795.68 L1041.41,795.40 L1041.68,795.15 L1041.99,794.90 L1042.34,794.68 L1042.73,794.48 L1043.15,794.30 L1043.59,794.14 L1044.07,794.01 L1044.56,793.91 L1045.06,793.84 L1045.58,793.80 L1046.10,793.78 L1046.62,793.80 L1047.14,793.84 L1047.64,793.91 L1048.13,794.01 L1048.61,794.14 L1049.05,794.30 L1049.47,794.48 L1049.86,794.68 L1050.21,794.90 L1050.52,795.15 L1050.79,795.40 L1051.01,795.68 L1051.19,795.96 L1051.31,796.25 L1051.39,796.55 L1051.42,796.85 L1051.39,797.15 L1051.31,797.45 L1051.19,797.74 L1051.01,798.02 L1050.79,798.30 L1050.52,798.55 L1050.21,798.80 L1049.86,799.02Z" fill="none" stroke="#fff" stroke-width="0.9" stroke-linecap="round" stroke-linejoin="round" stroke-dasharray="1.5,1.2"/>
<path d="M1048.22,799.58 L1048.00,799.69 L1047.77,799.79 L1047.51,799.88 L1047.25,799.95 L1046.97,800.01 L1046.69,800.05 L1046.39,800.07 L1046.10,800.08 L1045.81,800.07 L1045.51,800.05 L1045.23,800.01 L1044.95,799.95 L1044.69,799.88 L1044.43,799.79 L1044.20,799.69 L1043.98,799.58 L1043.78,799.45 L1043.61,799.31 L1043.45,799.17 L1043.33,799.01 L1043.23,798.85 L1043.16,798.69 L1043.11,798.52 L1043.10,798.35 L1043.11,798.18 L1043.16,798.01 L1043.23,797.85 L1043.33,797.69 L1043.45,797.53 L1043.61,797.39 L1043.78,797.25 L1043.98,797.12 L1044.20,797.01 L1044.43,796.91 L1044.69,796.82 L1044.95,796.75 L1045.23,796.69 L1045.51,796.65 L1045.81,796.63 L1046.10,796.62 L1046.39,796.63 L1046.69,796.65 L1046.97,796.69 L1047.25,796.75 L1047.51,796.82 L1047.77,796.91 L1048.00,797.01 L1048.22,797.12 L1048.42,797.25 L1048.59,797.39 L1048.75,797.53 L1048.87,797.69 L1048.97,797.85 L1049.04,798.01 L1049.09,798.18 L1049.10,798.35 L1049.09,798.52 L1049.04,798.69 L1048.97,798.85 L1048.87,799.01 L1048.75,799.17 L1048.59,799.31 L1048.42,799.45 L1048.22,799.58Z" fill="none" stroke="#fff" stroke-width="0.9" stroke-linecap="round" stroke-linejoin="round" stroke-dasharray="1.5,1.2"/>
<path d="M870.85,884.55 L880.52,874.88 L899.88,874.88 L909.55,884.55 L908.90,895.23 L908.68,896.40 L908.33,897.56 L907.84,898.68 L907.21,899.77 L906.46,900.82 L905.58,901.82 L904.58,902.76 L903.47,903.63 L902.26,904.43 L900.97,905.15 L899.59,905.78 L898.13,906.33 L896.62,906.78 L895.06,907.13 L893.46,907.39 L891.84,907.54 L890.20,907.60 L888.56,907.54 L886.94,907.39 L885.34,907.13 L883.78,906.78 L882.27,906.33 L880.82,905.78 L879.43,905.15 L878.13,904.43 L876.93,903.63 L875.82,902.76 L874.82,901.82 L873.94,900.82 L873.19,899.77 L872.56,898.68 L872.07,897.56 L871.72,896.40 L871.50,895.23Z" fill="#fff" stroke="#231815" stroke-width="3.2" stroke-linecap="round" stroke-linejoin="round"/>
<path d="M899.88,894.23 L899.88,903.73" fill="none" stroke="#231815" stroke-width="1.0" stroke-linecap="round" stroke-linejoin="round"/>
<path d="M880.52,894.23 L880.52,903.73" fill="none" stroke="#231815" stroke-width="1.0" stroke-linecap="round" stroke-linejoin="round"/>
<path d="M870.85,884.55 L870.85,894.05" fill="none" stroke="#231815" stroke-width="1.0" stroke-linecap="round" stroke-linejoin="round"/>
<path d="M909.55,884.55 L909.55,894.05" fill="none" stroke="#231815" stroke-width="1.0" stroke-linecap="round" stroke-linejoin="round"/>
<path d="M899.88,894.23 L880.52,894.23 L870.85,884.55 L880.52,874.87 L899.88,874.87 L909.55,884.55Z" fill="none" stroke="#231815" stroke-width="1.0" stroke-linecap="round" stroke-linejoin="round"/>
<path d="M896.26,888.05 L895.64,888.38 L894.96,888.67 L894.24,888.92 L893.48,889.12 L892.69,889.29 L891.87,889.40 L891.04,889.48 L890.20,889.50 L889.36,889.48 L888.53,889.40 L887.71,889.29 L886.92,889.12 L886.16,888.92 L885.44,888.67 L884.76,888.38 L884.14,888.05 L883.57,887.69 L883.07,887.30 L882.64,886.88 L882.28,886.44 L882.00,885.99 L881.79,885.52 L881.67,885.04 L881.63,884.55 L881.67,884.06 L881.79,883.58 L882.00,883.11 L882.28,882.66 L882.64,882.22 L883.07,881.80 L883.57,881.41 L884.14,881.05 L884.76,880.72 L885.44,880.43 L886.16,880.18 L886.92,879.98 L887.71,879.81 L888.53,879.70 L889.36,879.62 L890.20,879.60 L891.04,879.62 L891.87,879.70 L892.69,879.81 L893.48,879.98 L894.24,880.18 L894.96,880.43 L895.64,880.72 L896.26,881.05 L896.83,881.41 L897.33,881.80 L897.76,882.22 L898.12,882.66 L898.40,883.11 L898.61,883.58 L898.73,884.06 L898.77,884.55 L898.73,885.04 L898.61,885.52 L898.40,885.99 L898.12,886.44 L897.76,886.88 L897.33,887.30 L896.83,887.69 L896.26,888.05Z" fill="#5a504c" stroke="#231815" stroke-width="2.6" stroke-linecap="round" stroke-linejoin="round"/>
<path d="M893.96,888.22 L893.57,888.42 L893.15,888.60 L892.71,888.76 L892.23,888.89 L891.74,888.99 L891.24,889.06 L890.72,889.10 L890.20,889.12 L889.68,889.10 L889.16,889.06 L888.66,888.99 L888.17,888.89 L887.69,888.76 L887.25,888.60 L886.83,888.42 L886.44,888.22 L886.09,888.00 L885.78,887.75 L885.51,887.50 L885.29,887.22 L885.11,886.94 L884.99,886.65 L884.91,886.35 L884.88,886.05 L884.91,885.75 L884.99,885.45 L885.11,885.16 L885.29,884.88 L885.51,884.60 L885.78,884.35 L886.09,884.10 L886.44,883.88 L886.83,883.68 L887.25,883.50 L887.69,883.34 L888.17,883.21 L888.66,883.11 L889.16,883.04 L889.68,883.00 L890.20,882.98 L890.72,883.00 L891.24,883.04 L891.74,883.11 L892.23,883.21 L892.71,883.34 L893.15,883.50 L893.57,883.68 L893.96,883.88 L894.31,884.10 L894.62,884.35 L894.89,884.60 L895.11,884.88 L895.29,885.16 L895.41,885.45 L895.49,885.75 L895.52,886.05 L895.49,886.35 L895.41,886.65 L895.29,886.94 L895.11,887.22 L894.89,887.50 L894.62,887.75 L894.31,888.00 L893.96,888.22Z" fill="none" stroke="#fff" stroke-width="0.9" stroke-linecap="round" stroke-linejoin="round" stroke-dasharray="1.5,1.2"/>
<path d="M892.32,888.77 L892.10,888.89 L891.87,888.99 L891.61,889.08 L891.35,889.15 L891.07,889.21 L890.79,889.25 L890.49,889.27 L890.20,889.28 L889.91,889.27 L889.61,889.25 L889.33,889.21 L889.05,889.15 L888.79,889.08 L888.53,888.99 L888.30,888.89 L888.08,888.77 L887.88,888.65 L887.71,888.51 L887.55,888.37 L887.43,888.21 L887.33,888.05 L887.26,887.89 L887.21,887.72 L887.20,887.55 L887.21,887.38 L887.26,887.21 L887.33,887.05 L887.43,886.89 L887.55,886.73 L887.71,886.59 L887.88,886.45 L888.08,886.32 L888.30,886.21 L888.53,886.11 L888.79,886.02 L889.05,885.95 L889.33,885.89 L889.61,885.85 L889.91,885.83 L890.20,885.82 L890.49,885.83 L890.79,885.85 L891.07,885.89 L891.35,885.95 L891.61,886.02 L891.87,886.11 L892.10,886.21 L892.32,886.32 L892.52,886.45 L892.69,886.59 L892.85,886.73 L892.97,886.89 L893.07,887.05 L893.14,887.21 L893.19,887.38 L893.20,887.55 L893.19,887.72 L893.14,887.89 L893.07,888.05 L892.97,888.21 L892.85,888.37 L892.69,888.51 L892.52,888.65 L892.32,888.77Z" fill="none" stroke="#fff" stroke-width="0.9" stroke-linecap="round" stroke-linejoin="round" stroke-dasharray="1.5,1.2"/>
<path d="M196.96,145.80 L204.24,150.00" fill="none" stroke="#231815" stroke-width="1.1" stroke-linecap="butt" stroke-linejoin="round"/>
<path d="M110.66,330.40 L117.94,334.60" fill="none" stroke="#231815" stroke-width="1.1" stroke-linecap="butt" stroke-linejoin="round"/>
<path d="M955.66,583.50 L962.94,587.70" fill="none" stroke="#231815" stroke-width="1.1" stroke-linecap="butt" stroke-linejoin="round"/>
<path d="M1065.46,617.50 L1072.74,621.70" fill="none" stroke="#231815" stroke-width="1.1" stroke-linecap="butt" stroke-linejoin="round"/>
<path d="M937.96,808.00 L945.24,812.20" fill="none" stroke="#231815" stroke-width="1.1" stroke-linecap="butt" stroke-linejoin="round"/>
<path d="M413.04,161.85 L422.56,167.35" fill="none" stroke="#231815" stroke-width="1.1" stroke-linecap="butt" stroke-linejoin="round"/>
<path d="M1046.50,551.00 L1046.50,559.00" fill="none" stroke="#231815" stroke-width="1.1" stroke-linecap="butt" stroke-linejoin="round"/>
<path d="M889.90,706.30 L889.90,714.30" fill="none" stroke="#231815" stroke-width="1.1" stroke-linecap="butt" stroke-linejoin="round"/>
<path d="M182.00,279.00 L182.00,337.40" fill="none" stroke="#231815" stroke-width="1.0" stroke-linecap="round" stroke-linejoin="round"/>
<ellipse cx="806.70" cy="497.30" rx="17.80" ry="12.30" transform="rotate(-58 806.70 497.30)" fill="#fff" stroke="#231815" stroke-width="3.6"/>
<ellipse cx="808.27" cy="498.18" rx="15.31" ry="10.33" transform="rotate(-58 808.27 498.18)" fill="none" stroke="#231815" stroke-width="1.0"/>
<path d="M807.64,507.90 L832.20,521.67 L840.80,506.33 L816.23,492.57Z" fill="#231815" stroke="#231815" stroke-width="1.0" stroke-linecap="round" stroke-linejoin="round"/>
<path d="M820.82,496.65 L817.53,505.38" fill="none" stroke="#fff" stroke-width="1.4" stroke-linecap="butt" stroke-linejoin="round"/>
<path d="M822.91,497.82 L819.62,506.56" fill="none" stroke="#fff" stroke-width="1.4" stroke-linecap="butt" stroke-linejoin="round"/>
<path d="M825.00,498.99 L821.71,507.73" fill="none" stroke="#fff" stroke-width="1.4" stroke-linecap="butt" stroke-linejoin="round"/>
<path d="M827.09,500.16 L823.80,508.90" fill="none" stroke="#fff" stroke-width="1.4" stroke-linecap="butt" stroke-linejoin="round"/>
<path d="M829.18,501.33 L825.89,510.07" fill="none" stroke="#fff" stroke-width="1.4" stroke-linecap="butt" stroke-linejoin="round"/>
<path d="M831.27,502.50 L827.98,511.24" fill="none" stroke="#fff" stroke-width="1.4" stroke-linecap="butt" stroke-linejoin="round"/>
<path d="M833.36,503.67 L830.07,512.41" fill="none" stroke="#fff" stroke-width="1.4" stroke-linecap="butt" stroke-linejoin="round"/>
<path d="M835.45,504.85 L832.16,513.58" fill="none" stroke="#fff" stroke-width="1.4" stroke-linecap="butt" stroke-linejoin="round"/>
<path d="M837.53,506.02 L834.24,514.75" fill="none" stroke="#fff" stroke-width="1.4" stroke-linecap="butt" stroke-linejoin="round"/>
<ellipse cx="836.50" cy="514.00" rx="8.88" ry="5.13" transform="rotate(-60 836.50 514.00)" fill="#fff" stroke="#231815" stroke-width="2.7"/>
<path d="M811.24,491.25 L817.35,494.67 L810.93,506.12 L804.82,502.70Z" fill="#fff" stroke="#231815" stroke-width="1.4" stroke-linecap="round" stroke-linejoin="round"/>
<path d="M809.67,494.04 L815.78,497.46" fill="none" stroke="#231815" stroke-width="0.9" stroke-linecap="round" stroke-linejoin="round"/>
<ellipse cx="718.50" cy="681.20" rx="17.80" ry="12.30" transform="rotate(-58 718.50 681.20)" fill="#fff" stroke="#231815" stroke-width="3.6"/>
<ellipse cx="720.06" cy="682.10" rx="15.31" ry="10.33" transform="rotate(-58 720.06 682.10)" fill="none" stroke="#231815" stroke-width="1.0"/>
<path d="M719.30,691.81 L744.90,706.61 L753.70,691.39 L728.09,676.59Z" fill="#231815" stroke="#231815" stroke-width="1.0" stroke-linecap="round" stroke-linejoin="round"/>
<path d="M732.63,680.74 L729.22,689.43" fill="none" stroke="#fff" stroke-width="1.4" stroke-linecap="butt" stroke-linejoin="round"/>
<path d="M734.85,682.02 L731.45,690.71" fill="none" stroke="#fff" stroke-width="1.4" stroke-linecap="butt" stroke-linejoin="round"/>
<path d="M737.08,683.31 L733.68,692.00" fill="none" stroke="#fff" stroke-width="1.4" stroke-linecap="butt" stroke-linejoin="round"/>
<path d="M739.31,684.60 L735.90,693.29" fill="none" stroke="#fff" stroke-width="1.4" stroke-linecap="butt" stroke-linejoin="round"/>
<path d="M741.53,685.88 L738.13,694.57" fill="none" stroke="#fff" stroke-width="1.4" stroke-linecap="butt" stroke-linejoin="round"/>
<path d="M743.76,687.17 L740.36,695.86" fill="none" stroke="#fff" stroke-width="1.4" stroke-linecap="butt" stroke-linejoin="round"/>
<path d="M745.99,688.46 L742.58,697.15" fill="none" stroke="#fff" stroke-width="1.4" stroke-linecap="butt" stroke-linejoin="round"/>
<path d="M748.21,689.74 L744.81,698.43" fill="none" stroke="#fff" stroke-width="1.4" stroke-linecap="butt" stroke-linejoin="round"/>
<path d="M750.44,691.03 L747.04,699.72" fill="none" stroke="#fff" stroke-width="1.4" stroke-linecap="butt" stroke-linejoin="round"/>
<ellipse cx="749.30" cy="699.00" rx="8.88" ry="5.13" transform="rotate(-60 749.30 699.00)" fill="#fff" stroke="#231815" stroke-width="2.7"/>
<path d="M723.12,675.21 L729.18,678.71 L722.61,690.07 L716.55,686.57Z" fill="#fff" stroke="#231815" stroke-width="1.4" stroke-linecap="round" stroke-linejoin="round"/>
<path d="M721.52,677.98 L727.58,681.48" fill="none" stroke="#231815" stroke-width="0.9" stroke-linecap="round" stroke-linejoin="round"/>
<ellipse cx="955.00" cy="521.50" rx="17.30" ry="12.30" transform="rotate(-58 955.00 521.50)" fill="#fff" stroke="#231815" stroke-width="1.1"/>
<ellipse cx="956.57" cy="522.37" rx="14.88" ry="10.33" transform="rotate(-58 956.57 522.37)" fill="none" stroke="#231815" stroke-width="0.9"/>
<path d="M955.98,532.10 L982.23,546.68 L990.77,531.32 L964.51,516.73Z" fill="#fff" stroke="#231815" stroke-width="1.1" stroke-linecap="round" stroke-linejoin="round"/>
<path d="M967.41,518.01 L968.06,518.52 L968.59,519.21 L968.97,520.06 L969.21,521.05 L969.28,522.17 L969.21,523.37 L968.97,524.64 L968.59,525.93 L968.06,527.23 L967.41,528.49 L966.64,529.69 L965.78,530.79 L964.85,531.77 L963.87,532.61 L962.87,533.28 L961.86,533.77 L960.88,534.06 L959.95,534.16 L959.10,534.04 L958.33,533.73" fill="none" stroke="#231815" stroke-width="0.9" stroke-linecap="round" stroke-linejoin="round"/>
<path d="M969.84,519.36 L970.49,519.87 L971.02,520.56 L971.40,521.41 L971.64,522.40 L971.72,523.52 L971.64,524.72 L971.40,525.99 L971.02,527.28 L970.49,528.58 L969.84,529.84 L969.07,531.04 L968.21,532.14 L967.28,533.12 L966.30,533.96 L965.30,534.63 L964.30,535.12 L963.32,535.41 L962.39,535.51 L961.53,535.39 L960.76,535.08" fill="none" stroke="#231815" stroke-width="0.9" stroke-linecap="round" stroke-linejoin="round"/>
<path d="M972.27,520.71 L972.92,521.22 L973.45,521.91 L973.83,522.76 L974.07,523.75 L974.15,524.87 L974.07,526.07 L973.83,527.34 L973.45,528.64 L972.92,529.93 L972.27,531.19 L971.50,532.39 L970.64,533.49 L969.71,534.47 L968.73,535.31 L967.73,535.98 L966.73,536.47 L965.75,536.76 L964.82,536.86 L963.96,536.75 L963.19,536.43" fill="none" stroke="#231815" stroke-width="0.9" stroke-linecap="round" stroke-linejoin="round"/>
<path d="M974.70,522.06 L975.35,522.57 L975.88,523.26 L976.27,524.11 L976.50,525.10 L976.58,526.22 L976.50,527.42 L976.27,528.69 L975.88,529.99 L975.35,531.28 L974.70,532.54 L973.93,533.74 L973.08,534.84 L972.15,535.83 L971.17,536.66 L970.16,537.33 L969.16,537.82 L968.18,538.12 L967.25,538.21 L966.39,538.10 L965.62,537.78" fill="none" stroke="#231815" stroke-width="0.9" stroke-linecap="round" stroke-linejoin="round"/>
<path d="M977.13,523.41 L977.79,523.92 L978.31,524.61 L978.70,525.46 L978.93,526.46 L979.01,527.57 L978.93,528.77 L978.70,530.04 L978.31,531.34 L977.79,532.63 L977.13,533.89 L976.37,535.09 L975.51,536.19 L974.58,537.18 L973.60,538.01 L972.59,538.68 L971.59,539.17 L970.61,539.47 L969.68,539.56 L968.82,539.45 L968.06,539.13" fill="none" stroke="#231815" stroke-width="0.9" stroke-linecap="round" stroke-linejoin="round"/>
<path d="M979.56,524.77 L980.22,525.27 L980.74,525.96 L981.13,526.81 L981.36,527.81 L981.44,528.92 L981.36,530.12 L981.13,531.39 L980.74,532.69 L980.22,533.98 L979.56,535.25 L978.80,536.44 L977.94,537.55 L977.01,538.53 L976.03,539.36 L975.03,540.04 L974.02,540.52 L973.04,540.82 L972.11,540.91 L971.25,540.80 L970.49,540.48" fill="none" stroke="#231815" stroke-width="0.9" stroke-linecap="round" stroke-linejoin="round"/>
<path d="M981.99,526.12 L982.65,526.62 L983.17,527.31 L983.56,528.16 L983.80,529.16 L983.87,530.27 L983.80,531.48 L983.56,532.74 L983.17,534.04 L982.65,535.33 L981.99,536.60 L981.23,537.79 L980.37,538.90 L979.44,539.88 L978.46,540.72 L977.46,541.39 L976.45,541.87 L975.47,542.17 L974.54,542.26 L973.68,542.15 L972.92,541.84" fill="none" stroke="#231815" stroke-width="0.9" stroke-linecap="round" stroke-linejoin="round"/>
<path d="M984.43,527.47 L985.08,527.97 L985.61,528.66 L985.99,529.51 L986.23,530.51 L986.31,531.62 L986.23,532.83 L985.99,534.09 L985.61,535.39 L985.08,536.69 L984.43,537.95 L983.66,539.14 L982.80,540.25 L981.87,541.23 L980.89,542.07 L979.89,542.74 L978.88,543.23 L977.91,543.52 L976.98,543.61 L976.12,543.50 L975.35,543.19" fill="none" stroke="#231815" stroke-width="0.9" stroke-linecap="round" stroke-linejoin="round"/>
<path d="M986.86,528.82 L987.51,529.32 L988.04,530.01 L988.42,530.86 L988.66,531.86 L988.74,532.97 L988.66,534.18 L988.42,535.44 L988.04,536.74 L987.51,538.04 L986.86,539.30 L986.09,540.49 L985.23,541.60 L984.30,542.58 L983.32,543.42 L982.32,544.09 L981.32,544.58 L980.34,544.87 L979.41,544.96 L978.55,544.85 L977.78,544.54" fill="none" stroke="#231815" stroke-width="0.9" stroke-linecap="round" stroke-linejoin="round"/>
<path d="M989.29,530.17 L989.94,530.68 L990.47,531.36 L990.85,532.22 L991.09,533.21 L991.17,534.32 L991.09,535.53 L990.85,536.79 L990.47,538.09 L989.94,539.39 L989.29,540.65 L988.52,541.85 L987.67,542.95 L986.73,543.93 L985.76,544.77 L984.75,545.44 L983.75,545.93 L982.77,546.22 L981.84,546.31 L980.98,546.20 L980.21,545.89" fill="none" stroke="#231815" stroke-width="0.9" stroke-linecap="round" stroke-linejoin="round"/>
<ellipse cx="986.50" cy="539.00" rx="8.88" ry="5.13" transform="rotate(-60 986.50 539.00)" fill="#fff" stroke="#231815" stroke-width="1.0"/>
<path d="M959.52,515.43 L965.64,518.83 L959.26,530.30 L953.14,526.90Z" fill="#fff" stroke="#231815" stroke-width="1.0" stroke-linecap="round" stroke-linejoin="round"/>
<path d="M957.96,518.23 L964.08,521.63" fill="none" stroke="#231815" stroke-width="0.9" stroke-linecap="round" stroke-linejoin="round"/>
</svg></body></html>
